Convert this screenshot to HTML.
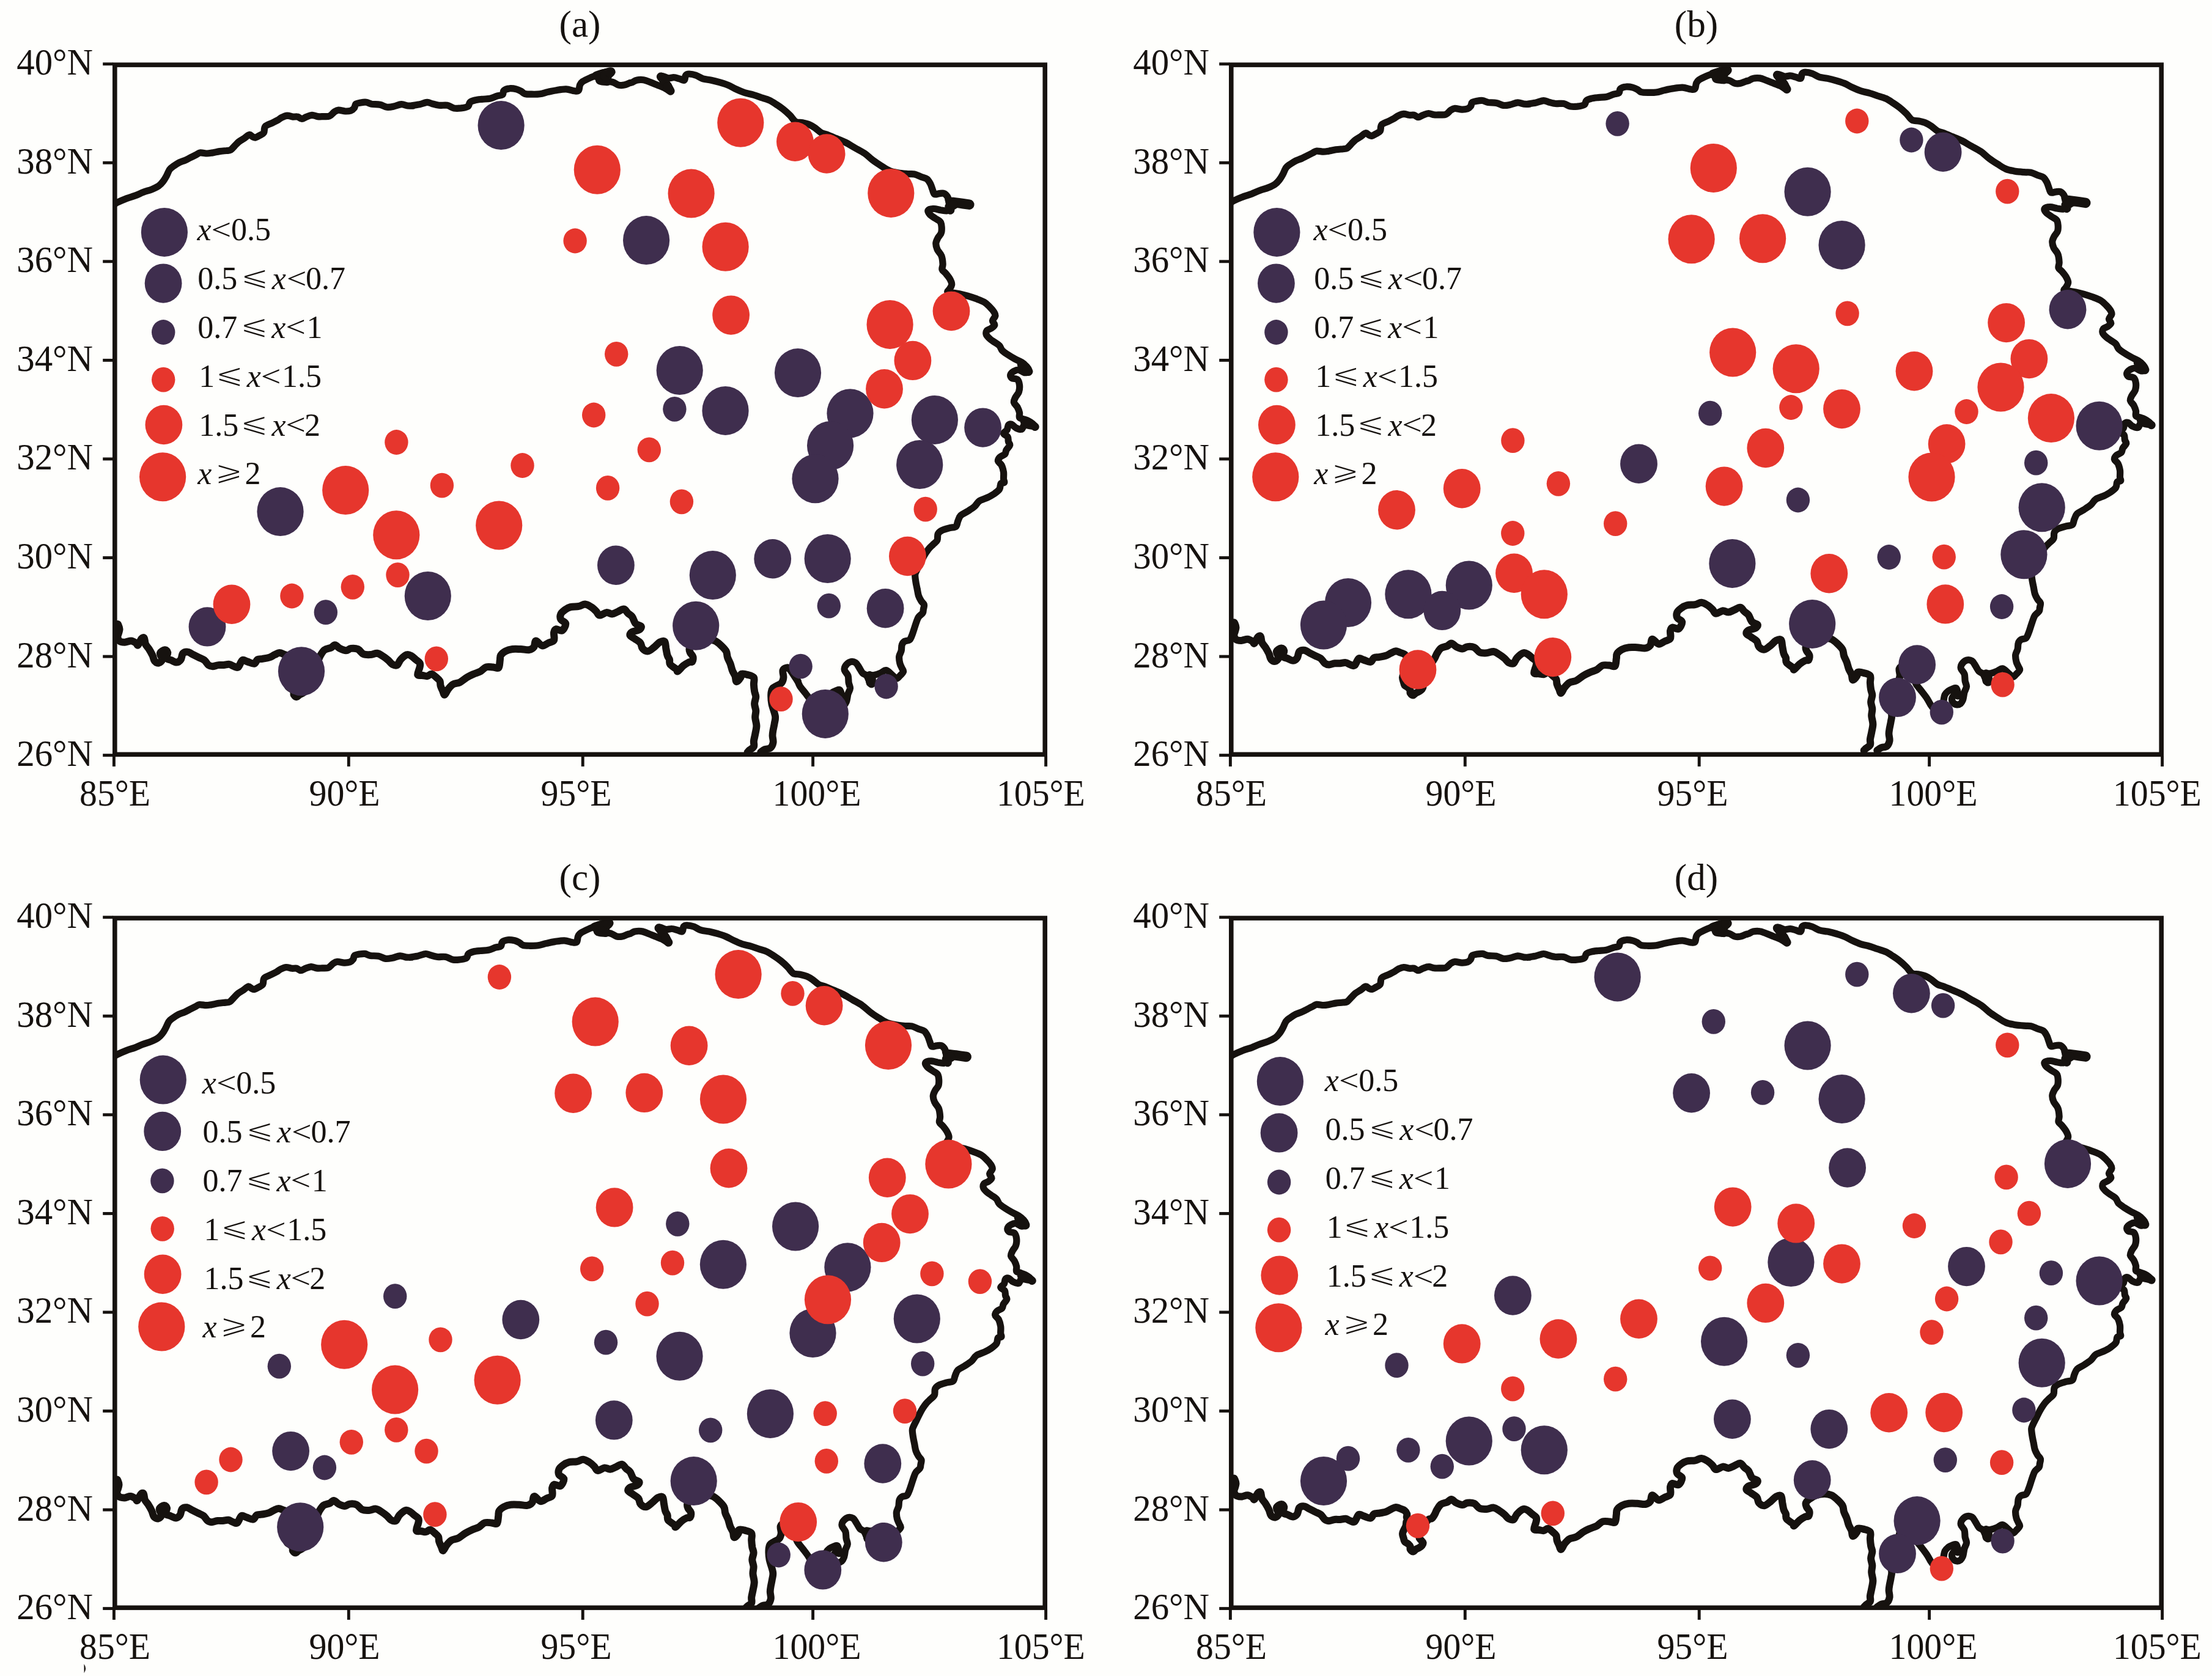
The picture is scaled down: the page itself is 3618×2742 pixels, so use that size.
<!DOCTYPE html>
<html lang="zh"><head><meta charset="utf-8"><title>Figure</title>
<style>
html,body{margin:0;padding:0;background:#fefefc}
body{width:3618px;height:2742px;overflow:hidden}
svg{display:block}
text{font-family:"Liberation Serif","Noto Serif CJK SC",serif;fill:#16120f}
.ax{font-size:61.2px}
.lg{font-size:52px}
.it{font-style:italic}
.lt{font-size:48.72px}
.sy{font-family:"DejaVu Sans",sans-serif;font-size:45px;stroke:#fefefc;stroke-width:1.3px}
.bd{fill:none;stroke:#16120f;stroke-width:11.2;stroke-linejoin:round;stroke-linecap:round}
.fr{fill:none;stroke:#16120f;stroke-width:7.6}
.tk{stroke:#16120f;stroke-width:4.9}
.D{fill:#3f2e4e}
.R{fill:#e6362d}
</style></head><body>
<svg width="3618" height="2742" viewBox="0 0 3618 2742">
<rect width="3618" height="2742" fill="#fefefc"/>
<g transform="translate(0,0)">
<clipPath id="cpa"><rect x="188" y="106" width="1521" height="1128"/></clipPath>
<g clip-path="url(#cpa)">
<path class="bd" d="M186.8 334.7C187.6 334.1 188.3 333 191.8 331.3C195.3 329.6 202.7 326.4 207.6 324.5C212.5 322.6 216.7 321.7 221.2 320C225.7 318.3 230.2 316 234.8 314.3C239.3 312.6 244.2 311.5 248.3 309.8C252.5 308.1 256.6 306.2 259.6 304.1C262.6 302.1 264.3 300 266.4 297.3C268.5 294.7 270.2 291.7 272.1 288.3C273.9 284.9 275.6 279.8 277.7 277C279.8 274.2 281.9 273.2 284.5 271.3C287.1 269.5 290.5 267.2 293.5 265.7C296.6 264.2 299.6 263.6 302.6 262.3C305.6 261 308.6 259.3 311.6 257.8C314.7 256.3 318 254.6 320.7 253.2C323.3 251.9 324.5 250.2 327.5 249.9C330.5 249.5 335.4 251 338.8 251C342.2 251 344.4 250.4 347.8 249.9C351.2 249.3 355.4 248.2 359.1 247.6C362.9 247 367.4 246.8 370.4 246.5C373.5 246.1 375 246.7 377.2 245.3C379.5 244 381.7 240.8 384 238.5C386.3 236.3 388.2 233.8 390.8 231.8C393.4 229.7 397 228 399.8 226.1C402.7 224.2 405.5 220.8 407.7 220.5C410 220.1 411.7 223.1 413.4 223.8C415.1 224.6 416 225.4 417.9 225C419.8 224.6 422.4 222.9 424.7 221.6C427 220.3 430 219.5 431.5 217.1C433 214.6 431.5 209.5 433.8 206.9C436 204.2 441.7 202.9 445.1 201.2C448.5 199.5 451.5 198.2 454.1 196.7C456.7 195.2 458.3 193.4 460.9 192.2C463.5 190.9 466.9 189.4 469.9 189.2C473 189.1 476.2 190.8 479 191.1C481.8 191.4 484.4 190.5 486.9 191.1C489.3 191.6 491.2 194.5 493.7 194.5C496.1 194.5 498.8 192.1 501.6 191.1C504.4 190 507.6 188.4 510.6 188.3C513.7 188.3 516.7 190.2 519.7 190.6C522.7 191 525.5 190.7 528.7 190.6C531.9 190.5 535.9 191.2 538.9 189.9C541.9 188.7 544.4 184.8 546.8 183.1C549.3 181.5 550.6 180.4 553.6 180.2C556.6 180 561.5 181.9 564.9 182C568.3 182.1 571.5 181.8 574 180.9C576.4 179.9 578.3 178.1 579.6 176.4C580.9 174.6 580.2 171.6 581.9 170.3C583.6 168.9 587 168.5 589.8 168C592.6 167.5 595.8 166.9 598.8 167.3C601.9 167.7 604.1 169.6 607.9 170.3C611.7 170.9 617.3 170.3 621.5 171.2C625.6 172 629 174.7 632.8 175.2C636.5 175.7 640.1 174.9 644.1 174.1C648 173.3 652.7 170.9 656.5 170.7C660.3 170.5 663.5 172.6 666.7 173C669.9 173.3 674.7 173 675.7 173C676.7 173 670.9 173.4 672.6 173C674.4 172.7 681.8 171.7 686.2 170.8C690.5 169.8 695.2 167.6 698.6 167.4C702 167.2 703.3 168.8 706.5 169.6C709.7 170.5 713.7 171.9 717.8 172.3C722 172.8 727.3 171.6 731.4 172.3C735.6 173.1 738.9 176.1 742.7 176.9C746.5 177.6 750.3 177.3 754 176.9C757.8 176.4 762.9 175.7 765.3 174.1C767.8 172.6 766.8 169.1 768.7 167.4C770.6 165.7 773.4 164.8 776.6 164C779.8 163.1 783.8 162.8 787.9 162.4C792.1 161.9 797.4 162.1 801.5 161.3C805.7 160.4 809.4 158.2 812.8 157.2C816.2 156.1 820 156.4 821.9 154.9C823.8 153.4 822.2 149.8 824.1 148.1C826 146.4 829.8 145.1 833.2 144.8C836.6 144.4 841.3 145.1 844.5 145.9C847.7 146.6 850.1 148 852.4 149.3C854.7 150.5 855.2 152.5 858.1 153.3C860.9 154.2 865.2 154.2 869.4 154.2C873.5 154.3 878.4 154.4 882.9 153.8C887.4 153.2 892 151.4 896.5 150.4C901 149.4 905.2 148.4 910.1 147.7C915 146.9 921 145.7 925.9 145.9C930.8 146.1 936.1 148.4 939.5 148.8C942.9 149.2 944.7 149.8 946.2 148.1C947.8 146.5 947.4 141.5 948.5 139.1C949.6 136.6 950 135.5 953 133.4C956 131.4 962.8 128.4 966.6 126.7C970.4 125 972.6 124.5 975.6 123.3C978.7 122.1 980.7 120.4 984.7 119.4C988.6 118.4 998.6 116.1 999.4 117.2C1000.1 118.2 992 123.2 989.2 125.5C986.4 127.9 981.7 129.9 982.4 131.2C983.2 132.4 990.3 132.4 993.7 133C997.1 133.6 999.8 133.6 1002.8 134.6C1005.8 135.6 1008.8 138.3 1011.8 139.1C1014.8 139.9 1017.9 139.7 1020.9 139.1C1023.9 138.5 1027.7 136.5 1029.9 135.7C1032.2 135 1032.6 135.3 1034.4 134.6C1036.3 133.8 1038.2 131.8 1041.2 131.2C1044.2 130.5 1048.8 130.2 1052.5 130.7C1056.3 131.3 1060.1 133.2 1063.8 134.6C1067.6 136 1071.4 137.6 1075.1 139.1C1078.9 140.6 1082.9 141.9 1086.5 143.6C1090 145.3 1095.5 149.8 1096.6 149.3C1097.8 148.7 1094.7 142.9 1093.2 140.2C1091.7 137.6 1089.5 136.1 1087.6 133.4C1085.7 130.8 1081 125.3 1081.9 124.4C1082.9 123.5 1089.8 127.4 1093.2 127.8C1096.6 128.2 1099.3 126.5 1102.3 126.7C1105.3 126.8 1108.5 128.2 1111.3 128.9C1114.2 129.7 1117.5 132.1 1119.2 131.2C1120.9 130.2 1120.2 125 1121.5 123.3C1122.8 121.6 1124.3 121 1127.1 121C1130 121 1134.7 121.9 1138.4 123.3C1142.2 124.6 1145.6 127.6 1149.8 128.9C1153.9 130.2 1158.8 130.2 1163.3 131.2C1167.8 132.1 1172.4 133.3 1176.9 134.6C1181.4 135.9 1185.9 137.2 1190.5 139.1C1195 141 1199.5 143.8 1204 145.9C1208.5 148 1213.1 150 1217.6 151.5C1222.1 153 1226.6 153.6 1231.2 154.9C1235.7 156.2 1240.2 157.9 1244.7 159.5C1249.3 161 1254.2 162.1 1258.3 164C1262.4 165.9 1265.8 168.3 1269.6 170.8C1273.4 173.2 1277.1 175.7 1280.9 178.7C1284.7 181.7 1288.8 185.5 1292.2 188.8C1295.6 192.2 1297.9 197 1301.3 199C1304.7 201 1308.8 200 1312.6 200.8C1316.3 201.7 1320.5 202.6 1323.9 204C1327.3 205.4 1329.7 207 1332.9 209.2C1336.1 211.4 1339.7 215.2 1343.1 217.1C1346.5 219 1349.3 219 1353.3 220.5C1357.2 222 1361.9 224.1 1366.8 226.2C1371.7 228.2 1377.4 230.3 1382.7 232.9C1388 235.6 1393.2 239 1398.5 242C1403.8 245 1409.4 247.6 1414.3 251C1419.2 254.4 1423.4 259 1427.9 262.3C1432.4 265.7 1437 268.6 1441.5 271.4C1446 274.2 1450.5 277.4 1455 279.3C1459.6 281.2 1463.7 281.8 1468.6 282.7C1473.5 283.6 1479.9 284.1 1484.4 284.5C1489 284.9 1492 284.1 1495.7 285C1499.5 285.8 1503.7 288.2 1507.1 289.5C1510.4 290.8 1513.7 291 1516.1 292.9C1518.6 294.8 1520.2 298 1521.8 300.8C1523.3 303.6 1524 307 1525.1 309.8C1526.3 312.7 1526.7 316.6 1528.5 317.7C1530.4 318.9 1533.8 316.8 1536.5 316.6C1539.1 316.4 1542.1 315.7 1544.4 316.6C1546.6 317.6 1548.7 320.2 1550 322.3C1551.3 324.3 1550 327.7 1552.3 329.1C1554.5 330.4 1559.8 329.8 1563.6 330.2C1567.4 330.6 1571.1 330.8 1574.9 331.3C1578.7 331.9 1588.1 333 1586.2 333.6C1584.3 334.1 1568.9 333.6 1563.6 334.7C1558.3 335.8 1557 338.7 1554.5 340.4C1552.1 342.1 1551.5 344.3 1548.9 344.9C1546.3 345.5 1542.3 344.3 1538.7 343.8C1535.1 343.2 1530.8 341.5 1527.4 341.5C1524 341.5 1519.5 342.2 1518.4 343.8C1517.2 345.3 1518.7 348.3 1520.6 350.5C1522.5 352.8 1526.7 355.1 1529.7 357.3C1532.7 359.6 1537 360.3 1538.7 364.1C1540.4 367.9 1540.6 375.8 1539.8 379.9C1539.1 384.1 1535.7 386 1534.2 389C1532.7 392 1531 394.8 1530.8 398C1530.6 401.2 1531.6 404.8 1533.1 408.2C1534.6 411.6 1538.3 414.4 1539.8 418.4C1541.4 422.3 1541.9 428.2 1542.1 432C1542.3 435.7 1540.2 438.5 1541 441C1541.7 443.5 1544.4 444.3 1546.5 446.8C1548.5 449.3 1551.6 452.8 1553.3 455.8C1555 458.8 1556.7 462 1556.7 464.9C1556.7 467.7 1554.4 470.7 1553.3 472.8C1552.1 474.9 1549.1 476.3 1549.9 477.3C1550.6 478.3 1554.6 478.3 1557.8 478.9C1561 479.5 1565 479.8 1569.1 480.7C1573.3 481.6 1578.2 482.8 1582.7 484.1C1587.2 485.4 1591.7 486.9 1596.2 488.6C1600.8 490.3 1606 492 1609.8 494.3C1613.6 496.5 1616.2 499.6 1618.9 502.2C1621.5 504.8 1624.1 507.7 1625.6 510.1C1627.2 512.6 1628.3 514.4 1627.9 516.9C1627.5 519.3 1623.6 522.4 1623.4 524.8C1623.2 527.3 1627.2 529.5 1626.8 531.6C1626.4 533.7 1623.2 535.7 1621.1 537.2C1619 538.7 1615.7 538.9 1614.3 540.6C1613 542.3 1612.5 545.2 1613.2 547.4C1614 549.7 1616.6 552.1 1618.9 554.2C1621.1 556.3 1624.1 558 1626.8 559.9C1629.4 561.7 1632.6 563.2 1634.7 565.5C1636.8 567.8 1637 571 1639.2 573.4C1641.5 575.9 1644.9 577.9 1648.3 580.2C1651.7 582.5 1655.8 584.9 1659.6 587C1663.3 589.1 1667.9 590.8 1670.9 592.6C1673.9 594.5 1675.8 595.8 1677.7 598.3C1679.5 600.7 1682.6 605.5 1682.2 607.3C1681.8 609.2 1678 610 1675.4 609.6C1672.8 609.2 1669.2 605.5 1666.4 605.1C1663.5 604.7 1660.7 606 1658.4 607.3C1656.2 608.7 1653.3 611.1 1652.8 613C1652.2 614.9 1653.2 617.3 1655 618.7C1656.9 620 1662 619 1664.1 620.9C1666.2 622.8 1667.1 626.6 1667.5 630C1667.9 633.4 1667.5 637.9 1666.4 641.3C1665.2 644.7 1662 647.5 1660.7 650.3C1659.4 653.1 1657.9 655.6 1658.4 658.2C1659 660.9 1662.6 663.3 1664.1 666.1C1665.6 669 1666.9 672.4 1667.5 675.2C1668 678 1666.5 681.4 1667.5 683.1C1668.4 684.8 1670.7 684.4 1673.1 685.4C1675.6 686.3 1679.5 687.4 1682.2 688.8C1684.8 690.1 1687.3 691.8 1689 693.3C1690.7 694.8 1693.1 697.2 1692.4 697.8C1691.6 698.4 1687.3 697 1684.4 696.7C1681.6 696.3 1677.7 694.6 1675.4 695.5C1673.1 696.5 1673.1 701.6 1670.9 702.3C1668.6 703.1 1664.5 701.4 1661.8 700.1C1659.2 698.7 1657.1 695.2 1655 694.4C1653 693.7 1650.7 694 1649.4 695.5C1648.1 697 1648.4 701.2 1647.1 703.5C1645.8 705.7 1641.3 707.2 1641.5 709.1C1641.7 711 1646.9 712.5 1648.3 714.8C1649.6 717 1648.8 720.4 1649.4 722.7C1650 724.9 1652.2 726.1 1651.7 728.3C1651.1 730.6 1647.3 733.8 1646 736.2C1644.7 738.7 1645.4 741.1 1643.7 743C1642 744.9 1637.7 745.7 1635.8 747.6C1633.9 749.4 1632.1 752.1 1632.4 754.3C1632.8 756.6 1636.6 758.1 1638.1 761.1C1639.6 764.1 1640.9 768.7 1641.5 772.4C1642 776.2 1641.3 780.9 1641.5 783.7C1641.7 786.6 1643.4 788.1 1642.6 789.4C1641.9 790.7 1638.3 789.5 1637 791.3C1635.6 793.1 1636.6 797.5 1634.7 800.4C1632.8 803.2 1628.8 806 1625.6 808.3C1622.4 810.5 1619.4 812 1615.5 813.9C1611.5 815.8 1605.5 817.1 1601.9 819.6C1598.3 822 1597.2 825.8 1594 828.6C1590.8 831.4 1586.4 834.1 1582.7 836.5C1578.9 839 1574 840.7 1571.4 843.3C1568.7 846 1568.2 849.4 1566.8 852.4C1565.5 855.4 1565.7 859.5 1563.5 861.4C1561.2 863.3 1557.2 862.5 1553.3 863.7C1549.3 864.8 1542.9 866.5 1539.7 868.2C1536.5 869.9 1535.2 871.2 1534.1 873.8C1532.9 876.5 1534.2 881.2 1532.9 884C1531.6 886.9 1528.4 888.5 1526.1 890.8C1523.9 893.1 1521.4 895.1 1519.4 897.6C1517.3 900 1515.4 902.9 1513.7 905.5C1512 908.1 1510.9 910.2 1509.2 913.4C1507.5 916.6 1505.2 921.3 1503.5 924.7C1501.8 928.1 1500.1 931.1 1499 933.8C1497.9 936.4 1496.9 937.5 1496.7 940.6C1496.6 943.6 1497.3 948.1 1497.9 951.9C1498.4 955.6 1499.4 959.4 1500.1 963.2C1500.9 966.9 1501.3 971.1 1502.4 974.5C1503.5 977.9 1505.4 981.1 1506.9 983.5C1508.4 986 1510.9 986.9 1511.4 989.2C1512 991.4 1510.7 994.8 1510.3 997.1C1509.9 999.4 1510.5 1000.7 1509.2 1002.7C1507.9 1004.8 1504.1 1007.1 1502.4 1009.5C1500.7 1012 1500.1 1014.4 1499 1017.4C1497.9 1020.5 1496.7 1024.2 1495.6 1027.6C1494.5 1031 1493.5 1034.6 1492.2 1037.8C1490.9 1041 1489.8 1045 1487.7 1046.8C1485.6 1048.7 1481.9 1047.8 1479.8 1049.1C1477.7 1050.4 1476.2 1052.1 1475.3 1054.8C1474.3 1057.4 1474.9 1061.7 1474.1 1064.9C1473.4 1068.1 1471.1 1070.6 1470.7 1074C1470.4 1077.4 1471.1 1082.1 1471.9 1085.3C1472.6 1088.5 1474.3 1090.9 1475.3 1093.2C1476.2 1095.5 1478.1 1096.8 1477.5 1098.9C1477 1100.9 1473.8 1103.8 1471.9 1105.6C1470 1107.5 1468.5 1110.5 1466.2 1110.2C1464 1109.8 1461.1 1105.6 1458.3 1103.4C1455.5 1101.1 1452.3 1097 1449.3 1096.6C1446.2 1096.2 1443.4 1099.8 1440.2 1101.1C1437 1102.4 1433 1103.8 1430 1104.5C1427 1105.3 1423.2 1103.6 1422.1 1105.6C1421 1107.7 1424 1117 1423.2 1117C1422.5 1117 1419.7 1108.3 1417.6 1105.6C1415.5 1103 1412.9 1103.4 1410.8 1101.1C1408.7 1098.9 1407 1094.9 1405.2 1092.1C1403.3 1089.2 1402 1085.7 1399.5 1084.2C1397.1 1082.7 1393.3 1082.1 1390.5 1083C1387.6 1084 1384 1087.6 1382.5 1089.8C1381 1092.1 1380.7 1094 1381.4 1096.6C1382.2 1099.2 1385.9 1102.3 1387.1 1105.6C1388.2 1109 1387.6 1113.6 1388.2 1117C1388.8 1120.3 1390.6 1123 1390.5 1126C1390.3 1129 1387.9 1132.2 1387.1 1135C1386.3 1137.9 1386.1 1140.6 1385.6 1142.9C1385.2 1145.1 1385.1 1146.5 1384.3 1148.3C1383.5 1150.1 1382.5 1152.5 1380.9 1153.7C1379.3 1154.9 1376.8 1156 1374.8 1155.7C1372.7 1155.5 1370 1154 1368.7 1152.3C1367.3 1150.7 1366.3 1147.6 1366.6 1145.6C1367 1143.5 1369 1140.8 1370.7 1140.1C1372.4 1139.5 1375.9 1142.4 1376.8 1141.5C1377.7 1140.6 1376.7 1136.9 1376.1 1134.7C1375.6 1132.6 1374.9 1129.4 1373.4 1128.6C1371.9 1127.8 1369.5 1129.2 1367.3 1130C1365.2 1130.8 1362.6 1131.8 1360.5 1133.4C1358.5 1134.9 1356.4 1137 1355.1 1139.5C1353.9 1142 1354 1143.4 1353.1 1148.3C1352.2 1153.1 1352.4 1166.4 1349.7 1168.6C1347 1170.9 1339.9 1164.1 1336.8 1161.8C1333.7 1159.6 1333.2 1157.8 1331.4 1155.1C1329.6 1152.3 1328.2 1149 1325.9 1145.6C1323.7 1142.2 1320.8 1138.6 1317.8 1134.7C1314.9 1130.9 1310.5 1125.9 1308.3 1122.5C1306.2 1119.1 1305.5 1115.7 1304.9 1114.4"/>
<path class="bd" style="stroke-width:11.8" d="M1304.9 1114.4C1302.7 1111.1 1294.9 1098.5 1291.7 1094.8C1288.6 1091.2 1288 1092.2 1286.1 1092.6C1284.2 1093 1281.2 1094.5 1280.4 1097.1C1279.7 1099.7 1281.9 1105 1281.5 1108.4C1281.2 1111.8 1280 1115.2 1278.2 1117.4C1276.3 1119.7 1272.7 1120.5 1270.2 1122C1267.8 1123.5 1265 1124.2 1263.5 1126.5C1261.9 1128.8 1261.4 1131.4 1261.2 1135.5C1261 1139.7 1261.2 1145.3 1262.3 1151.4C1263.5 1157.4 1267.2 1166.4 1268 1171.7C1268.7 1177 1267.4 1179.3 1266.8 1183C1266.3 1186.8 1265.2 1190.9 1264.6 1194.3C1264 1197.7 1263.5 1200 1263.5 1203.4C1263.5 1206.8 1265.2 1211.3 1264.6 1214.7C1264 1218.1 1262.3 1221.9 1260.1 1223.7C1257.8 1225.6 1253.7 1224.9 1251 1226C1248.4 1227.1 1245.4 1229.8 1244.2 1230.5"/>
<path class="bd" style="stroke-width:12" d="M1222.7 1230.5C1223.3 1230 1224.4 1228.6 1226.1 1227.1C1227.8 1225.6 1231.8 1223.9 1232.9 1221.5C1234.1 1219 1232.5 1215.8 1232.9 1212.4C1233.3 1209 1234.4 1205.3 1235.2 1201.1C1235.9 1197 1237.4 1192.1 1237.4 1187.6C1237.4 1183 1235.4 1178.1 1235.2 1174C1235 1169.8 1236.5 1166.4 1236.3 1162.7C1236.1 1158.9 1234.1 1155.1 1234.1 1151.4C1234.1 1147.6 1236.3 1143.5 1236.3 1140.1C1236.3 1136.7 1234.6 1134.4 1234.1 1131C1233.5 1127.6 1233.1 1123.5 1232.9 1119.7C1232.7 1115.9 1234.6 1111 1232.9 1108.4C1231.2 1105.8 1226.1 1104.8 1222.7 1103.9C1219.4 1102.9 1214.5 1102 1212.6 1102.7C1210.7 1103.5 1212.8 1106.3 1211.4 1108.4C1210.1 1110.5 1206.2 1115.6 1204.7 1115.2C1203.2 1114.8 1203.5 1109.2 1202.4 1106.1C1201.3 1103.1 1199.2 1100.5 1197.9 1097.1C1196.6 1093.7 1195.8 1089.4 1194.5 1085.8C1193.2 1082.2 1191.1 1079 1190 1075.6C1188.8 1072.2 1189.6 1068.8 1187.7 1065.4C1185.8 1062 1181.7 1058.1 1178.7 1055.3C1175.6 1052.4 1173 1050 1169.6 1048.5C1166.2 1047 1162.4 1046.2 1158.3 1046.2C1154.2 1046.2 1148.7 1047.2 1144.7 1048.5C1140.8 1049.8 1137.4 1052.1 1134.6 1054.1C1131.7 1056.2 1128.7 1058.7 1127.8 1060.9C1126.8 1063.2 1128 1065.4 1128.9 1067.7C1129.8 1070 1132.9 1072 1133.4 1074.5C1134 1076.9 1133.4 1080.9 1132.3 1082.4C1131.2 1083.9 1129.1 1082.4 1126.6 1083.5C1124.2 1084.7 1120.6 1086.7 1117.6 1089.2C1114.6 1091.6 1110.4 1097.3 1108.5 1098.2C1106.7 1099.2 1108.4 1096.7 1106.3 1094.8C1104.2 1093 1098 1089.6 1096.1 1086.9C1094.2 1084.3 1095.7 1081.5 1095 1079C1094.2 1076.6 1092.5 1075.2 1091.6 1072.2C1090.6 1069.2 1090.1 1064.7 1089.3 1060.9C1088.6 1057.1 1088.8 1051.3 1087.1 1049.6C1085.4 1047.9 1082 1049.2 1079.1 1050.7C1076.3 1052.2 1073.3 1056.2 1070.1 1058.7C1066.9 1061.1 1063.1 1065.1 1059.9 1065.4C1056.7 1065.8 1053 1063.2 1050.9 1060.9C1048.8 1058.7 1049.6 1054.5 1047.5 1051.9C1045.4 1049.2 1041.3 1047.2 1038.4 1045.1C1035.6 1043 1031.3 1041.3 1030.5 1039.4C1029.8 1037.5 1031.5 1035.3 1033.9 1033.8C1036.4 1032.3 1042.8 1031.9 1045.2 1030.4C1047.7 1028.9 1049.6 1026.4 1048.6 1024.7C1047.7 1023 1042 1022.8 1039.6 1020.2C1037.1 1017.6 1036 1011.7 1033.9 1008.9C1031.8 1006.1 1029.4 1005.3 1027.1 1003.2C1024.9 1001.2 1023.2 996.8 1020.4 996.5C1017.5 996.1 1013.3 999.7 1010 1001C1006.8 1002.3 1004 1004.2 1001 1004.4C998 1004.6 995.3 1001.7 991.9 1002.1C988.5 1002.5 983.5 1007 980.6 1006.6C977.8 1006.3 977.2 1002.1 975 999.9C972.7 997.6 970.1 995 967.1 993.1C964 991.2 960.3 988.7 956.9 988.5C953.5 988.4 950.7 991.2 946.7 991.9C942.7 992.7 936.9 992.1 933.1 993.1C929.4 994 926.7 995.7 924.1 997.6C921.5 999.5 918.4 1001.7 917.3 1004.4C916.2 1007 916 1010.8 917.3 1013.4C918.6 1016.1 924.8 1017.2 925.2 1020.2C925.6 1023.2 922.2 1030 919.6 1031.5C916.9 1033 911.7 1028.7 909.4 1029.3C907.1 1029.8 906.6 1031.9 906 1034.9C905.4 1037.9 907.5 1044.5 906 1047.3C904.5 1050.2 900.2 1050.4 897 1051.9C893.7 1053.4 890.2 1057 886.8 1056.4C883.4 1055.8 878.9 1048.1 876.6 1048.5C874.3 1048.9 875.1 1056.2 873.2 1058.7C871.3 1061.1 868.9 1062.6 865.3 1063.2C861.7 1063.7 856.2 1062.2 851.7 1062C847.2 1061.9 842.3 1061.5 838.2 1062C834 1062.6 830.1 1063.7 826.8 1065.4C823.6 1067.1 820.4 1069.8 818.9 1072.2C817.4 1074.7 818.4 1076.7 817.8 1080.1C817.2 1083.5 817.4 1090.7 815.5 1092.6C813.7 1094.5 809.9 1091.6 806.5 1091.4C803.1 1091.3 798.6 1090.3 795.2 1091.4C791.8 1092.6 789.5 1096.3 786.1 1098.2C782.7 1100.1 778.6 1101.1 774.8 1102.7C771.1 1104.4 767.3 1106.1 763.5 1108.4C759.8 1110.7 756 1114.4 752.2 1116.3C748.5 1118.2 744.1 1117.8 740.9 1119.7C737.7 1121.6 735.3 1124.8 733 1127.6C730.7 1130.5 728.9 1136.3 727.3 1136.7C725.8 1137 725.1 1132.3 724 1129.9C722.8 1127.4 721.3 1124.6 720.6 1122C719.8 1119.3 720.6 1116.3 719.4 1114.1C718.3 1111.8 716 1110.3 713.8 1108.4C711.5 1106.5 708.3 1103.1 705.9 1102.7C703.4 1102.4 701.5 1105.8 699.1 1106.1C696.6 1106.5 693.8 1105.4 691.2 1105C688.5 1104.6 684 1106.1 683.2 1103.9C682.5 1101.6 686.1 1094.6 686.6 1091.4C687.2 1088.2 687.8 1086.7 686.6 1084.7C685.5 1082.6 682.1 1080.9 679.9 1079C677.6 1077.1 675.5 1074.7 673.1 1073.4C670.7 1072 668.5 1070.1 665.6 1071.1C662.6 1072 658 1076.2 655.4 1079C652.7 1081.8 652 1086.7 649.7 1088.1C647.5 1089.4 644.3 1088.2 641.8 1086.9C639.4 1085.6 637.7 1082.4 635 1080.1C632.4 1077.9 629 1075.2 626 1073.4C623 1071.5 620.3 1069.2 616.9 1068.8C613.5 1068.5 609.4 1070.9 605.6 1071.1C601.9 1071.3 597.7 1071.5 594.3 1070C590.9 1068.5 588.7 1063.6 585.3 1062C581.9 1060.5 577.2 1060.5 574 1060.9C570.8 1061.3 569.1 1064.3 566 1064.3C563 1064.3 558.9 1062.4 555.9 1060.9C552.9 1059.4 550.4 1055.4 548 1055.3C545.5 1055.1 544 1058.5 541.2 1059.8C538.3 1061.1 533.8 1061.1 531 1063.2C528.2 1065.2 525.9 1069.4 524.2 1072.2C522.5 1075 522 1077.5 520.6 1079.8C519.3 1082.2 517.7 1084.8 516.1 1086.2C514.4 1087.5 512.4 1086.5 510.6 1088C508.8 1089.5 507.2 1091.9 505.2 1095.2C503.2 1098.5 500.5 1104.2 498.8 1107.8C497.2 1111.4 495.4 1114.6 495.2 1116.8C495.1 1119.1 496.9 1119.8 497.9 1121.3C499 1122.8 501.3 1124.4 501.6 1125.9C501.9 1127.4 500.8 1129 499.8 1130.4C498.7 1131.7 496.9 1132.9 495.2 1134C493.6 1135 491.4 1135.6 489.8 1136.7C488.1 1137.7 486.7 1140.3 485.2 1140.3C483.7 1140.3 481.5 1138 480.7 1136.7C479.9 1135.3 481.3 1133.7 480.7 1132.2C480.1 1130.7 478.6 1129 477.1 1127.7C475.6 1126.3 472.8 1125.6 471.6 1124.1C470.4 1122.5 470.4 1120.7 469.8 1118.6C469.2 1116.5 468 1113.5 468 1111.4C468 1109.3 468.9 1108.1 469.8 1106C470.7 1103.9 472.7 1101.2 473.4 1098.8C474.2 1096.4 473.9 1093.2 474.4 1091.6C474.8 1089.9 476.1 1090.1 476.2 1088.9C476.2 1087.7 475 1086 474.8 1084.3C474.7 1082.7 475.8 1080.7 475.3 1078.9C474.7 1077.1 473.3 1074.9 471.6 1073.5C470 1072.2 467.7 1071.7 465.3 1070.8C462.9 1069.9 459.7 1068.1 457.1 1068.1C454.5 1068.2 452.3 1069.8 449.6 1071.1C446.8 1072.3 443.9 1074.5 440.5 1075.6C437.1 1076.7 432.4 1077.3 429.2 1077.9C426 1078.4 423.6 1077.7 421.3 1079C419.1 1080.3 418.5 1085.2 415.7 1085.8C412.8 1086.4 407.6 1083.3 404.4 1082.4C401.2 1081.5 398.9 1078.6 396.4 1080.1C394 1081.6 391.9 1089.7 389.7 1091.4C387.4 1093.1 385.3 1091.1 382.9 1090.3C380.4 1089.6 377.8 1087.3 375 1086.9C372.1 1086.5 368.9 1087.9 365.9 1088.1C362.9 1088.2 359.9 1087.7 356.9 1088.1C353.9 1088.4 350.5 1090.3 347.8 1090.3C345.2 1090.3 343.3 1089.7 341 1088.1C338.8 1086.4 336.9 1082.2 334.3 1080.1C331.6 1078.1 328.2 1077.1 325.2 1075.6C322.2 1074.1 319.2 1072.6 316.2 1071.1C313.1 1069.6 309.9 1066.9 307.1 1066.6C304.3 1066.2 301.1 1066.8 299.2 1068.8C297.3 1070.9 297.5 1076.6 295.8 1079C294.1 1081.5 291.7 1083.3 289 1083.5C286.4 1083.7 282.8 1081.3 280 1080.1C277.2 1079 273 1078.8 272.1 1076.7C271.1 1074.7 274.7 1070 274.3 1067.7C273.9 1065.4 271.9 1063 269.8 1063.2C267.7 1063.4 262.6 1066.2 261.9 1068.8C261.1 1071.5 265.7 1076.4 265.3 1079C264.9 1081.6 261.7 1084.3 259.6 1084.7C257.6 1085 254.5 1083.3 252.8 1081.3C251.1 1079.2 251 1075.4 249.5 1072.2C247.9 1069 245.7 1065.1 243.8 1062C241.9 1059 239.5 1057.1 238.1 1054.1C236.8 1051.1 237 1045.5 235.9 1044C234.8 1042.4 233.1 1043.2 231.4 1045.1C229.7 1047 227.2 1054.1 225.7 1055.3C224.2 1056.4 224.2 1053 222.3 1051.9C220.4 1050.7 217.4 1048.7 214.4 1048.5C211.4 1048.3 207.4 1050.7 204.2 1050.7C201 1050.7 197.2 1050.5 195.2 1048.5C193.1 1046.4 192 1041.5 191.8 1038.3C191.6 1035.1 194 1031.9 194 1029.3C194 1026.6 193 1023.8 191.8 1022.5C190.6 1021.2 187.6 1021.5 186.8 1021.3"/>
<path class="bd" style="stroke-width:14.5" d="M975.6 123.9C977.5 123.3 983 121.4 987 120.3C990.9 119.3 999 116.7 999.4 117.6C999.8 118.5 992.2 123.3 989.2 125.5C986.2 127.8 980.5 129.9 981.3 131.2C982.1 132.4 991.7 132.7 993.7 133"/>
<path class="bd" style="stroke-width:14" d="M1080.8 125.5C1082.1 127.2 1086.1 131.8 1088.7 135.7C1091.4 139.6 1095.3 146.6 1096.6 148.8"/>
<path class="bd" style="stroke-width:16.5" d="M1554.5 330.6C1556.8 330.9 1563 331.5 1568.1 332.2C1573.2 332.9 1582.4 334.3 1585.3 334.7"/>
<path class="bd" style="stroke-width:14" d="M1552.3 338.1C1552.7 339 1554.2 342.8 1554.5 343.8"/>
<path class="bd" style="stroke-width:14.5" d="M1670.9 596C1672.2 597 1676.9 599.7 1678.8 601.7C1680.7 603.7 1681.6 606.8 1682.2 607.8"/>
<path class="bd" style="stroke-width:13.5" d="M1675.4 689.9C1677.1 690.5 1682.6 691.9 1685.6 693.3C1688.5 694.7 1691.8 697.4 1693 698.3"/>
<path class="bd" style="stroke-width:14" d="M192.2 1022C192.6 1023.2 194.5 1026.5 194.5 1029.3C194.5 1032 192.6 1036.8 192.2 1038.3"/>
<path class="bd" style="stroke-width:15" d="M1422.1 1105.6C1422.4 1107.5 1423.6 1114.7 1423.9 1116.5"/>
<path class="bd" style="stroke-width:15" d="M1422.9 1109.5C1423.3 1110.9 1425.1 1116.5 1425.6 1117.9"/>
<circle cx="991.5" cy="123.9" r="9.5" fill="#16120f"/>
<circle cx="997.1" cy="118.7" r="8" fill="#16120f"/>
<circle cx="1086.5" cy="131.2" r="8" fill="#16120f"/>
<circle cx="1092.1" cy="141.4" r="7.5" fill="#16120f"/>
<circle cx="1559.1" cy="335.2" r="8" fill="#16120f"/>
<circle cx="1679.9" cy="605.1" r="8" fill="#16120f"/>
<circle cx="1424.4" cy="1111.3" r="8.5" fill="#16120f"/>
<circle cx="1425.1" cy="1115.2" r="8" fill="#16120f"/>
</g>
<ellipse class="D" cx="1057.1" cy="393.1" rx="38.1" ry="40"/>
<ellipse class="D" cx="1111.7" cy="606" rx="38.1" ry="40"/>
<ellipse class="D" cx="1305" cy="610.1" rx="38.1" ry="40"/>
<ellipse class="D" cx="1103.4" cy="669.3" rx="19.2" ry="20.4"/>
<ellipse class="D" cx="1186.5" cy="671.9" rx="38.1" ry="40"/>
<ellipse class="D" cx="1390.5" cy="676.3" rx="38.1" ry="40"/>
<ellipse class="D" cx="1528.9" cy="686.9" rx="38.1" ry="40"/>
<ellipse class="D" cx="1607.6" cy="699.6" rx="30.4" ry="32.2"/>
<ellipse class="D" cx="819.6" cy="205.1" rx="38.1" ry="40"/>
<ellipse class="D" cx="458.5" cy="837.1" rx="38.1" ry="40"/>
<ellipse class="D" cx="699.8" cy="975" rx="38.1" ry="40"/>
<ellipse class="D" cx="532.8" cy="1001.7" rx="19.2" ry="20.4"/>
<ellipse class="D" cx="339" cy="1025.4" rx="30.4" ry="32.2"/>
<ellipse class="D" cx="493" cy="1098.2" rx="38.1" ry="40"/>
<ellipse class="D" cx="1358.1" cy="729" rx="38.1" ry="40"/>
<ellipse class="D" cx="1333.5" cy="783.3" rx="38.1" ry="40"/>
<ellipse class="D" cx="1504.2" cy="760" rx="38.1" ry="40"/>
<ellipse class="D" cx="1007.4" cy="924.7" rx="30.4" ry="32.2"/>
<ellipse class="D" cx="1165.8" cy="941" rx="38.1" ry="40"/>
<ellipse class="D" cx="1263.7" cy="914.3" rx="30.4" ry="32.2"/>
<ellipse class="D" cx="1353.7" cy="914" rx="38.1" ry="40"/>
<ellipse class="D" cx="1355.8" cy="991.2" rx="19.2" ry="20.4"/>
<ellipse class="D" cx="1448.1" cy="995.3" rx="30.4" ry="32.2"/>
<ellipse class="D" cx="1138.2" cy="1023.7" rx="38.1" ry="40"/>
<ellipse class="D" cx="1309.6" cy="1090.2" rx="19.2" ry="20.4"/>
<ellipse class="D" cx="1449.6" cy="1123" rx="19.2" ry="20.4"/>
<ellipse class="D" cx="1349.8" cy="1167.9" rx="38.1" ry="40"/>
<ellipse class="R" cx="1211.3" cy="200.8" rx="38.1" ry="40"/>
<ellipse class="R" cx="1300.4" cy="231.8" rx="30.4" ry="32.2"/>
<ellipse class="R" cx="1352.1" cy="251.5" rx="30.4" ry="32.2"/>
<ellipse class="R" cx="976.8" cy="277.7" rx="38.1" ry="40"/>
<ellipse class="R" cx="1130.6" cy="316.6" rx="38.1" ry="40"/>
<ellipse class="R" cx="1457.3" cy="315.9" rx="38.1" ry="40"/>
<ellipse class="R" cx="940.6" cy="394" rx="19.2" ry="20.4"/>
<ellipse class="R" cx="1186.6" cy="403.7" rx="38.1" ry="40"/>
<ellipse class="R" cx="1195.6" cy="515.6" rx="30.4" ry="32.2"/>
<ellipse class="R" cx="1455.6" cy="530.9" rx="38.1" ry="40"/>
<ellipse class="R" cx="1556" cy="509" rx="30.4" ry="32.2"/>
<ellipse class="R" cx="1008.2" cy="579.3" rx="19.2" ry="20.4"/>
<ellipse class="R" cx="1492.9" cy="589.9" rx="30.4" ry="32.2"/>
<ellipse class="R" cx="1446.5" cy="636.3" rx="30.4" ry="32.2"/>
<ellipse class="R" cx="971.2" cy="679" rx="19.2" ry="20.4"/>
<ellipse class="R" cx="648.4" cy="723.5" rx="19.2" ry="20.4"/>
<ellipse class="R" cx="854.5" cy="761.5" rx="19.2" ry="20.4"/>
<ellipse class="R" cx="565.2" cy="802" rx="38.1" ry="40"/>
<ellipse class="R" cx="722.9" cy="794.1" rx="19.2" ry="20.4"/>
<ellipse class="R" cx="648.3" cy="875.3" rx="38.1" ry="40"/>
<ellipse class="R" cx="816.2" cy="859.5" rx="38.1" ry="40"/>
<ellipse class="R" cx="650.5" cy="940.6" rx="19.2" ry="20.4"/>
<ellipse class="R" cx="576.8" cy="960.3" rx="19.2" ry="20.4"/>
<ellipse class="R" cx="477.4" cy="975" rx="19.2" ry="20.4"/>
<ellipse class="R" cx="379" cy="988.8" rx="30.4" ry="32.2"/>
<ellipse class="R" cx="713.8" cy="1077.9" rx="19.2" ry="20.4"/>
<ellipse class="R" cx="1061.8" cy="735.8" rx="19.2" ry="20.4"/>
<ellipse class="R" cx="994.1" cy="798.4" rx="19.2" ry="20.4"/>
<ellipse class="R" cx="1114.9" cy="820.8" rx="19.2" ry="20.4"/>
<ellipse class="R" cx="1513.7" cy="833.1" rx="19.2" ry="20.4"/>
<ellipse class="R" cx="1484.4" cy="910" rx="30.4" ry="32.2"/>
<ellipse class="R" cx="1277.5" cy="1143.7" rx="19.2" ry="20.4"/>
<rect class="fr" x="187.8" y="106.1" width="1521.4" height="1128.2"/>
<line class="tk" x1="168.2" x2="185" y1="104.7" y2="104.7"/>
<text class="ax" transform="translate(152.1,122.1) scale(0.962,1)" text-anchor="end">40°N</text>
<line class="tk" x1="168.2" x2="185" y1="266.3" y2="266.3"/>
<text class="ax" transform="translate(152.1,283.7) scale(0.962,1)" text-anchor="end">38°N</text>
<line class="tk" x1="168.2" x2="185" y1="427.8" y2="427.8"/>
<text class="ax" transform="translate(152.1,445.2) scale(0.962,1)" text-anchor="end">36°N</text>
<line class="tk" x1="168.2" x2="185" y1="589.4" y2="589.4"/>
<text class="ax" transform="translate(152.1,606.8) scale(0.962,1)" text-anchor="end">34°N</text>
<line class="tk" x1="168.2" x2="185" y1="750.9" y2="750.9"/>
<text class="ax" transform="translate(152.1,768.3) scale(0.962,1)" text-anchor="end">32°N</text>
<line class="tk" x1="168.2" x2="185" y1="912.5" y2="912.5"/>
<text class="ax" transform="translate(152.1,929.9) scale(0.962,1)" text-anchor="end">30°N</text>
<line class="tk" x1="168.2" x2="185" y1="1074.1" y2="1074.1"/>
<text class="ax" transform="translate(152.1,1091.5) scale(0.962,1)" text-anchor="end">28°N</text>
<line class="tk" x1="168.2" x2="185" y1="1235.6" y2="1235.6"/>
<text class="ax" transform="translate(152.1,1253) scale(0.962,1)" text-anchor="end">26°N</text>
<line class="tk" x1="186.4" x2="186.4" y1="1237" y2="1254"/>
<text class="ax" transform="translate(130.1,1317.6) scale(0.943,1)">85°E</text>
<line class="tk" x1="570.3" x2="570.3" y1="1237" y2="1254"/>
<text class="ax" transform="translate(505.6,1317.6) scale(0.943,1)">90°E</text>
<line class="tk" x1="953.2" x2="953.2" y1="1237" y2="1254"/>
<text class="ax" transform="translate(884.5,1317.6) scale(0.943,1)">95°E</text>
<line class="tk" x1="1329.6" x2="1329.6" y1="1237" y2="1254"/>
<text class="ax" transform="translate(1263.6,1317.6) scale(0.943,1)">100°E</text>
<line class="tk" x1="1710.6" x2="1710.6" y1="1237" y2="1254"/>
<text class="ax" transform="translate(1630,1317.6) scale(0.943,1)">105°E</text>
<text class="ax" x="948.5" y="60.1" text-anchor="middle">(a)</text>
<ellipse class="D" cx="268.9" cy="379.9" rx="38.1" ry="40"/>
<text class="lg"><tspan class="it" x="322.4" y="393">x</tspan><tspan class="lt" x="345.6" y="391.5" textLength="32.712" lengthAdjust="spacingAndGlyphs">&lt;</tspan><tspan x="377.9" y="393">0.5</tspan></text>
<ellipse class="D" cx="267.1" cy="463.6" rx="30.4" ry="32.2"/>
<text class="lg"><tspan x="323.2" y="473">0.5</tspan><tspan class="sy" x="393.2" y="466.6" textLength="46.7604" lengthAdjust="spacingAndGlyphs">⩽</tspan><tspan class="it" x="444.8" y="473">x</tspan><tspan class="lt" x="468.8" y="471.5" textLength="32.712" lengthAdjust="spacingAndGlyphs">&lt;</tspan><tspan x="500.1" y="473">0.7</tspan></text>
<ellipse class="D" cx="267.2" cy="543.5" rx="19.2" ry="20.4"/>
<text class="lg"><tspan x="323.3" y="552.9">0.7</tspan><tspan class="sy" x="392.5" y="546.5" textLength="46.7604" lengthAdjust="spacingAndGlyphs">⩽</tspan><tspan class="it" x="444.3" y="552.9">x</tspan><tspan class="lt" x="467.3" y="551.4" textLength="32.712" lengthAdjust="spacingAndGlyphs">&lt;</tspan><tspan x="501.5" y="552.9">1</tspan></text>
<ellipse class="R" cx="267.2" cy="621.2" rx="19.2" ry="20.4"/>
<text class="lg"><tspan x="325.3" y="633">1</tspan><tspan class="sy" x="351.9" y="626.6" textLength="46.7604" lengthAdjust="spacingAndGlyphs">⩽</tspan><tspan class="it" x="403.7" y="633">x</tspan><tspan class="lt" x="426.7" y="631.5" textLength="32.712" lengthAdjust="spacingAndGlyphs">&lt;</tspan><tspan x="460.9" y="633">1.5</tspan></text>
<ellipse class="R" cx="267.9" cy="695" rx="30.4" ry="32.2"/>
<text class="lg"><tspan x="325.3" y="712.9">1.5</tspan><tspan class="sy" x="392.6" y="706.5" textLength="46.7604" lengthAdjust="spacingAndGlyphs">⩽</tspan><tspan class="it" x="444.4" y="712.9">x</tspan><tspan class="lt" x="467.3" y="711.4" textLength="32.712" lengthAdjust="spacingAndGlyphs">&lt;</tspan><tspan x="497.9" y="712.9">2</tspan></text>
<ellipse class="R" cx="266.1" cy="780.3" rx="38.1" ry="40"/>
<text class="lg"><tspan class="it" x="323.2" y="792">x</tspan><tspan class="sy" x="351" y="785.6" textLength="46.7604" lengthAdjust="spacingAndGlyphs">⩾</tspan><tspan x="400.6" y="792">2</tspan></text>
</g>
<g transform="translate(1826,0)">
<clipPath id="cpb"><rect x="188" y="106" width="1521" height="1128"/></clipPath>
<g clip-path="url(#cpb)">
<path class="bd" d="M186.8 331.9C187.6 331.3 188.3 330.2 191.8 328.5C195.3 326.8 202.7 323.6 207.6 321.7C212.5 319.8 216.7 318.9 221.2 317.2C225.7 315.5 230.2 313.2 234.8 311.5C239.3 309.8 244.2 308.7 248.3 307C252.5 305.3 256.6 303.4 259.6 301.3C262.6 299.3 264.3 297.2 266.4 294.5C268.5 291.9 270.2 288.9 272.1 285.5C273.9 282.1 275.6 277 277.7 274.2C279.8 271.4 281.9 270.4 284.5 268.5C287.1 266.7 290.5 264.4 293.5 262.9C296.6 261.4 299.6 260.8 302.6 259.5C305.6 258.2 308.6 256.5 311.6 255C314.7 253.5 318 251.8 320.7 250.4C323.3 249.1 324.5 247.4 327.5 247.1C330.5 246.7 335.4 248.2 338.8 248.2C342.2 248.2 344.4 247.6 347.8 247.1C351.2 246.5 355.4 245.4 359.1 244.8C362.9 244.2 367.4 244 370.4 243.7C373.5 243.3 375 243.9 377.2 242.5C379.5 241.2 381.7 238 384 235.7C386.3 233.5 388.2 231 390.8 229C393.4 226.9 397 225.2 399.8 223.3C402.7 221.4 405.5 218 407.7 217.7C410 217.3 411.7 220.3 413.4 221C415.1 221.8 416 222.6 417.9 222.2C419.8 221.8 422.4 220.1 424.7 218.8C427 217.5 430 216.7 431.5 214.3C433 211.8 431.5 206.7 433.8 204.1C436 201.4 441.7 200.1 445.1 198.4C448.5 196.7 451.5 195.4 454.1 193.9C456.7 192.4 458.3 190.6 460.9 189.4C463.5 188.1 466.9 186.6 469.9 186.4C473 186.3 476.2 188 479 188.3C481.8 188.6 484.4 187.7 486.9 188.3C489.3 188.8 491.2 191.7 493.7 191.7C496.1 191.7 498.8 189.3 501.6 188.3C504.4 187.2 507.6 185.6 510.6 185.5C513.7 185.5 516.7 187.4 519.7 187.8C522.7 188.2 525.5 187.9 528.7 187.8C531.9 187.7 535.9 188.4 538.9 187.1C541.9 185.9 544.4 182 546.8 180.3C549.3 178.7 550.6 177.6 553.6 177.4C556.6 177.2 561.5 179.1 564.9 179.2C568.3 179.3 571.5 179 574 178.1C576.4 177.1 578.3 175.3 579.6 173.6C580.9 171.8 580.2 168.8 581.9 167.5C583.6 166.1 587 165.7 589.8 165.2C592.6 164.7 595.8 164.1 598.8 164.5C601.9 164.9 604.1 166.8 607.9 167.5C611.7 168.1 617.3 167.5 621.5 168.4C625.6 169.2 629 171.9 632.8 172.4C636.5 172.9 640.1 172.1 644.1 171.3C648 170.5 652.7 168.1 656.5 167.9C660.3 167.7 663.5 169.8 666.7 170.2C669.9 170.5 674.7 170.2 675.7 170.2C676.7 170.2 670.9 170.6 672.6 170.2C674.4 169.9 681.8 168.9 686.2 168C690.5 167 695.2 164.8 698.6 164.6C702 164.4 703.3 166 706.5 166.8C709.7 167.7 713.7 169.1 717.8 169.5C722 170 727.3 168.8 731.4 169.5C735.6 170.3 738.9 173.3 742.7 174.1C746.5 174.8 750.3 174.5 754 174.1C757.8 173.6 762.9 172.9 765.3 171.3C767.8 169.8 766.8 166.3 768.7 164.6C770.6 162.9 773.4 162 776.6 161.2C779.8 160.3 783.8 160 787.9 159.6C792.1 159.1 797.4 159.3 801.5 158.5C805.7 157.6 809.4 155.4 812.8 154.4C816.2 153.3 820 153.6 821.9 152.1C823.8 150.6 822.2 147 824.1 145.3C826 143.6 829.8 142.3 833.2 142C836.6 141.6 841.3 142.3 844.5 143.1C847.7 143.8 850.1 145.2 852.4 146.5C854.7 147.7 855.2 149.7 858.1 150.5C860.9 151.4 865.2 151.4 869.4 151.4C873.5 151.5 878.4 151.6 882.9 151C887.4 150.4 892 148.6 896.5 147.6C901 146.6 905.2 145.6 910.1 144.9C915 144.1 921 142.9 925.9 143.1C930.8 143.3 936.1 145.6 939.5 146C942.9 146.4 944.7 147 946.2 145.3C947.8 143.7 947.4 138.7 948.5 136.3C949.6 133.8 950 132.7 953 130.6C956 128.6 962.8 125.6 966.6 123.9C970.4 122.2 972.6 121.7 975.6 120.5C978.7 119.3 980.7 117.6 984.7 116.6C988.6 115.6 998.6 113.3 999.4 114.4C1000.1 115.4 992 120.4 989.2 122.7C986.4 125.1 981.7 127.1 982.4 128.4C983.2 129.6 990.3 129.6 993.7 130.2C997.1 130.8 999.8 130.8 1002.8 131.8C1005.8 132.8 1008.8 135.5 1011.8 136.3C1014.8 137.1 1017.9 136.9 1020.9 136.3C1023.9 135.7 1027.7 133.7 1029.9 132.9C1032.2 132.2 1032.6 132.5 1034.4 131.8C1036.3 131 1038.2 129 1041.2 128.4C1044.2 127.7 1048.8 127.4 1052.5 127.9C1056.3 128.5 1060.1 130.4 1063.8 131.8C1067.6 133.2 1071.4 134.8 1075.1 136.3C1078.9 137.8 1082.9 139.1 1086.5 140.8C1090 142.5 1095.5 147 1096.6 146.5C1097.8 145.9 1094.7 140.1 1093.2 137.4C1091.7 134.8 1089.5 133.3 1087.6 130.6C1085.7 128 1081 122.5 1081.9 121.6C1082.9 120.7 1089.8 124.6 1093.2 125C1096.6 125.4 1099.3 123.7 1102.3 123.9C1105.3 124 1108.5 125.4 1111.3 126.1C1114.2 126.9 1117.5 129.3 1119.2 128.4C1120.9 127.4 1120.2 122.2 1121.5 120.5C1122.8 118.8 1124.3 118.2 1127.1 118.2C1130 118.2 1134.7 119.1 1138.4 120.5C1142.2 121.8 1145.6 124.8 1149.8 126.1C1153.9 127.4 1158.8 127.4 1163.3 128.4C1167.8 129.3 1172.4 130.5 1176.9 131.8C1181.4 133.1 1185.9 134.4 1190.5 136.3C1195 138.2 1199.5 141 1204 143.1C1208.5 145.2 1213.1 147.2 1217.6 148.7C1222.1 150.2 1226.6 150.8 1231.2 152.1C1235.7 153.4 1240.2 155.1 1244.7 156.7C1249.3 158.2 1254.2 159.3 1258.3 161.2C1262.4 163.1 1265.8 165.5 1269.6 168C1273.4 170.4 1277.1 172.9 1280.9 175.9C1284.7 178.9 1288.8 182.7 1292.2 186C1295.6 189.4 1297.9 194.2 1301.3 196.2C1304.7 198.2 1308.8 197.2 1312.6 198C1316.3 198.9 1320.5 199.8 1323.9 201.2C1327.3 202.6 1329.7 204.2 1332.9 206.4C1336.1 208.6 1339.7 212.4 1343.1 214.3C1346.5 216.2 1349.3 216.2 1353.3 217.7C1357.2 219.2 1361.9 221.3 1366.8 223.4C1371.7 225.4 1377.4 227.5 1382.7 230.1C1388 232.8 1393.2 236.2 1398.5 239.2C1403.8 242.2 1409.4 244.8 1414.3 248.2C1419.2 251.6 1423.4 256.2 1427.9 259.5C1432.4 262.9 1437 265.8 1441.5 268.6C1446 271.4 1450.5 274.6 1455 276.5C1459.6 278.4 1463.7 279 1468.6 279.9C1473.5 280.8 1479.9 281.3 1484.4 281.7C1489 282.1 1492 281.3 1495.7 282.2C1499.5 283 1503.7 285.4 1507.1 286.7C1510.4 288 1513.7 288.2 1516.1 290.1C1518.6 292 1520.2 295.2 1521.8 298C1523.3 300.8 1524 304.2 1525.1 307C1526.3 309.9 1526.7 313.8 1528.5 314.9C1530.4 316.1 1533.8 314 1536.5 313.8C1539.1 313.6 1542.1 312.9 1544.4 313.8C1546.6 314.8 1548.7 317.4 1550 319.5C1551.3 321.5 1550 324.9 1552.3 326.3C1554.5 327.6 1559.8 327 1563.6 327.4C1567.4 327.8 1571.1 328 1574.9 328.5C1578.7 329.1 1588.1 330.2 1586.2 330.8C1584.3 331.3 1568.9 330.8 1563.6 331.9C1558.3 333 1557 335.9 1554.5 337.6C1552.1 339.3 1551.5 341.5 1548.9 342.1C1546.3 342.7 1542.3 341.5 1538.7 341C1535.1 340.4 1530.8 338.7 1527.4 338.7C1524 338.7 1519.5 339.4 1518.4 341C1517.2 342.5 1518.7 345.5 1520.6 347.7C1522.5 350 1526.7 352.3 1529.7 354.5C1532.7 356.8 1537 357.5 1538.7 361.3C1540.4 365.1 1540.6 373 1539.8 377.1C1539.1 381.3 1535.7 383.2 1534.2 386.2C1532.7 389.2 1531 392 1530.8 395.2C1530.6 398.4 1531.6 402 1533.1 405.4C1534.6 408.8 1538.3 411.6 1539.8 415.6C1541.4 419.5 1541.9 425.4 1542.1 429.2C1542.3 432.9 1540.2 435.7 1541 438.2C1541.7 440.7 1544.4 441.5 1546.5 444C1548.5 446.5 1551.6 450 1553.3 453C1555 456 1556.7 459.2 1556.7 462.1C1556.7 464.9 1554.4 467.9 1553.3 470C1552.1 472.1 1549.1 473.5 1549.9 474.5C1550.6 475.5 1554.6 475.5 1557.8 476.1C1561 476.7 1565 477 1569.1 477.9C1573.3 478.8 1578.2 480 1582.7 481.3C1587.2 482.6 1591.7 484.1 1596.2 485.8C1600.8 487.5 1606 489.2 1609.8 491.5C1613.6 493.7 1616.2 496.8 1618.9 499.4C1621.5 502 1624.1 504.9 1625.6 507.3C1627.2 509.8 1628.3 511.6 1627.9 514.1C1627.5 516.5 1623.6 519.6 1623.4 522C1623.2 524.5 1627.2 526.7 1626.8 528.8C1626.4 530.9 1623.2 532.9 1621.1 534.4C1619 535.9 1615.7 536.1 1614.3 537.8C1613 539.5 1612.5 542.4 1613.2 544.6C1614 546.9 1616.6 549.3 1618.9 551.4C1621.1 553.5 1624.1 555.2 1626.8 557.1C1629.4 558.9 1632.6 560.4 1634.7 562.7C1636.8 565 1637 568.2 1639.2 570.6C1641.5 573.1 1644.9 575.1 1648.3 577.4C1651.7 579.7 1655.8 582.1 1659.6 584.2C1663.3 586.3 1667.9 588 1670.9 589.8C1673.9 591.7 1675.8 593 1677.7 595.5C1679.5 597.9 1682.6 602.7 1682.2 604.5C1681.8 606.4 1678 607.2 1675.4 606.8C1672.8 606.4 1669.2 602.7 1666.4 602.3C1663.5 601.9 1660.7 603.2 1658.4 604.5C1656.2 605.9 1653.3 608.3 1652.8 610.2C1652.2 612.1 1653.2 614.5 1655 615.9C1656.9 617.2 1662 616.2 1664.1 618.1C1666.2 620 1667.1 623.8 1667.5 627.2C1667.9 630.6 1667.5 635.1 1666.4 638.5C1665.2 641.9 1662 644.7 1660.7 647.5C1659.4 650.3 1657.9 652.8 1658.4 655.4C1659 658.1 1662.6 660.5 1664.1 663.3C1665.6 666.2 1666.9 669.6 1667.5 672.4C1668 675.2 1666.5 678.6 1667.5 680.3C1668.4 682 1670.7 681.6 1673.1 682.6C1675.6 683.5 1679.5 684.6 1682.2 686C1684.8 687.3 1687.3 689 1689 690.5C1690.7 692 1693.1 694.4 1692.4 695C1691.6 695.6 1687.3 694.2 1684.4 693.9C1681.6 693.5 1677.7 691.8 1675.4 692.7C1673.1 693.7 1673.1 698.8 1670.9 699.5C1668.6 700.3 1664.5 698.6 1661.8 697.3C1659.2 695.9 1657.1 692.4 1655 691.6C1653 690.9 1650.7 691.2 1649.4 692.7C1648.1 694.2 1648.4 698.4 1647.1 700.7C1645.8 702.9 1641.3 704.4 1641.5 706.3C1641.7 708.2 1646.9 709.7 1648.3 712C1649.6 714.2 1648.8 717.6 1649.4 719.9C1650 722.1 1652.2 723.3 1651.7 725.5C1651.1 727.8 1647.3 731 1646 733.4C1644.7 735.9 1645.4 738.3 1643.7 740.2C1642 742.1 1637.7 742.9 1635.8 744.8C1633.9 746.6 1632.1 749.3 1632.4 751.5C1632.8 753.8 1636.6 755.3 1638.1 758.3C1639.6 761.3 1640.9 765.9 1641.5 769.6C1642 773.4 1641.3 778.1 1641.5 780.9C1641.7 783.8 1643.4 785.3 1642.6 786.6C1641.9 787.9 1638.3 786.7 1637 788.5C1635.6 790.3 1636.6 794.7 1634.7 797.6C1632.8 800.4 1628.8 803.2 1625.6 805.5C1622.4 807.7 1619.4 809.2 1615.5 811.1C1611.5 813 1605.5 814.3 1601.9 816.8C1598.3 819.2 1597.2 823 1594 825.8C1590.8 828.6 1586.4 831.3 1582.7 833.7C1578.9 836.2 1574 837.9 1571.4 840.5C1568.7 843.2 1568.2 846.6 1566.8 849.6C1565.5 852.6 1565.7 856.7 1563.5 858.6C1561.2 860.5 1557.2 859.7 1553.3 860.9C1549.3 862 1542.9 863.7 1539.7 865.4C1536.5 867.1 1535.2 868.4 1534.1 871C1532.9 873.7 1534.2 878.4 1532.9 881.2C1531.6 884.1 1528.4 885.7 1526.1 888C1523.9 890.3 1521.4 892.3 1519.4 894.8C1517.3 897.2 1515.4 900.1 1513.7 902.7C1512 905.3 1510.9 907.4 1509.2 910.6C1507.5 913.8 1505.2 918.5 1503.5 921.9C1501.8 925.3 1500.1 928.3 1499 931C1497.9 933.6 1496.9 934.7 1496.7 937.8C1496.6 940.8 1497.3 945.3 1497.9 949.1C1498.4 952.8 1499.4 956.6 1500.1 960.4C1500.9 964.1 1501.3 968.3 1502.4 971.7C1503.5 975.1 1505.4 978.3 1506.9 980.7C1508.4 983.2 1510.9 984.1 1511.4 986.4C1512 988.6 1510.7 992 1510.3 994.3C1509.9 996.6 1510.5 997.9 1509.2 999.9C1507.9 1002 1504.1 1004.3 1502.4 1006.7C1500.7 1009.2 1500.1 1011.6 1499 1014.6C1497.9 1017.7 1496.7 1021.4 1495.6 1024.8C1494.5 1028.2 1493.5 1031.8 1492.2 1035C1490.9 1038.2 1489.8 1042.2 1487.7 1044C1485.6 1045.9 1481.9 1045 1479.8 1046.3C1477.7 1047.6 1476.2 1049.3 1475.3 1052C1474.3 1054.6 1474.9 1058.9 1474.1 1062.1C1473.4 1065.3 1471.1 1067.8 1470.7 1071.2C1470.4 1074.6 1471.1 1079.3 1471.9 1082.5C1472.6 1085.7 1474.3 1088.1 1475.3 1090.4C1476.2 1092.7 1478.1 1094 1477.5 1096.1C1477 1098.1 1473.8 1101 1471.9 1102.8C1470 1104.7 1468.5 1107.7 1466.2 1107.4C1464 1107 1461.1 1102.8 1458.3 1100.6C1455.5 1098.3 1452.3 1094.2 1449.3 1093.8C1446.2 1093.4 1443.4 1097 1440.2 1098.3C1437 1099.6 1433 1101 1430 1101.7C1427 1102.5 1423.2 1100.8 1422.1 1102.8C1421 1104.9 1424 1114.2 1423.2 1114.2C1422.5 1114.2 1419.7 1105.5 1417.6 1102.8C1415.5 1100.2 1412.9 1100.6 1410.8 1098.3C1408.7 1096.1 1407 1092.1 1405.2 1089.3C1403.3 1086.4 1402 1082.9 1399.5 1081.4C1397.1 1079.9 1393.3 1079.3 1390.5 1080.2C1387.6 1081.2 1384 1084.8 1382.5 1087C1381 1089.3 1380.7 1091.2 1381.4 1093.8C1382.2 1096.4 1385.9 1099.5 1387.1 1102.8C1388.2 1106.2 1387.6 1110.8 1388.2 1114.2C1388.8 1117.5 1390.6 1120.2 1390.5 1123.2C1390.3 1126.2 1387.9 1129.4 1387.1 1132.2C1386.3 1135.1 1386.1 1137.8 1385.6 1140.1C1385.2 1142.3 1385.1 1143.7 1384.3 1145.5C1383.5 1147.3 1382.5 1149.7 1380.9 1150.9C1379.3 1152.1 1376.8 1153.2 1374.8 1152.9C1372.7 1152.7 1370 1151.2 1368.7 1149.5C1367.3 1147.9 1366.3 1144.8 1366.6 1142.8C1367 1140.7 1369 1138 1370.7 1137.3C1372.4 1136.7 1375.9 1139.6 1376.8 1138.7C1377.7 1137.8 1376.7 1134.1 1376.1 1131.9C1375.6 1129.8 1374.9 1126.6 1373.4 1125.8C1371.9 1125 1369.5 1126.4 1367.3 1127.2C1365.2 1128 1362.6 1129 1360.5 1130.6C1358.5 1132.1 1356.4 1134.2 1355.1 1136.7C1353.9 1139.2 1354 1140.6 1353.1 1145.5C1352.2 1150.3 1352.4 1163.6 1349.7 1165.8C1347 1168.1 1339.9 1161.3 1336.8 1159C1333.7 1156.8 1333.2 1155 1331.4 1152.3C1329.6 1149.5 1328.2 1146.2 1325.9 1142.8C1323.7 1139.4 1320.8 1135.8 1317.8 1131.9C1314.9 1128.1 1310.5 1123.1 1308.3 1119.7C1306.2 1116.3 1305.5 1112.9 1304.9 1111.6"/>
<path class="bd" style="stroke-width:11.8" d="M1304.9 1111.6C1302.7 1108.3 1294.9 1095.7 1291.7 1092C1288.6 1088.4 1288 1089.4 1286.1 1089.8C1284.2 1090.2 1281.2 1091.7 1280.4 1094.3C1279.7 1096.9 1281.9 1102.2 1281.5 1105.6C1281.2 1109 1280 1112.4 1278.2 1114.6C1276.3 1116.9 1272.7 1117.7 1270.2 1119.2C1267.8 1120.7 1265 1121.4 1263.5 1123.7C1261.9 1126 1261.4 1128.6 1261.2 1132.7C1261 1136.9 1261.2 1142.5 1262.3 1148.6C1263.5 1154.6 1267.2 1163.6 1268 1168.9C1268.7 1174.2 1267.4 1176.5 1266.8 1180.2C1266.3 1184 1265.2 1188.1 1264.6 1191.5C1264 1194.9 1263.5 1197.2 1263.5 1200.6C1263.5 1204 1265.2 1208.5 1264.6 1211.9C1264 1215.3 1262.3 1219.1 1260.1 1220.9C1257.8 1222.8 1253.7 1222.1 1251 1223.2C1248.4 1224.3 1245.4 1227 1244.2 1227.7"/>
<path class="bd" style="stroke-width:12" d="M1222.7 1227.7C1223.3 1227.2 1224.4 1225.8 1226.1 1224.3C1227.8 1222.8 1231.8 1221.1 1232.9 1218.7C1234.1 1216.2 1232.5 1213 1232.9 1209.6C1233.3 1206.2 1234.4 1202.5 1235.2 1198.3C1235.9 1194.2 1237.4 1189.3 1237.4 1184.8C1237.4 1180.2 1235.4 1175.3 1235.2 1171.2C1235 1167 1236.5 1163.6 1236.3 1159.9C1236.1 1156.1 1234.1 1152.3 1234.1 1148.6C1234.1 1144.8 1236.3 1140.7 1236.3 1137.3C1236.3 1133.9 1234.6 1131.6 1234.1 1128.2C1233.5 1124.8 1233.1 1120.7 1232.9 1116.9C1232.7 1113.1 1234.6 1108.2 1232.9 1105.6C1231.2 1103 1226.1 1102 1222.7 1101.1C1219.4 1100.1 1214.5 1099.2 1212.6 1099.9C1210.7 1100.7 1212.8 1103.5 1211.4 1105.6C1210.1 1107.7 1206.2 1112.8 1204.7 1112.4C1203.2 1112 1203.5 1106.4 1202.4 1103.3C1201.3 1100.3 1199.2 1097.7 1197.9 1094.3C1196.6 1090.9 1195.8 1086.6 1194.5 1083C1193.2 1079.4 1191.1 1076.2 1190 1072.8C1188.8 1069.4 1189.6 1066 1187.7 1062.6C1185.8 1059.2 1181.7 1055.3 1178.7 1052.5C1175.6 1049.6 1173 1047.2 1169.6 1045.7C1166.2 1044.2 1162.4 1043.4 1158.3 1043.4C1154.2 1043.4 1148.7 1044.4 1144.7 1045.7C1140.8 1047 1137.4 1049.3 1134.6 1051.3C1131.7 1053.4 1128.7 1055.9 1127.8 1058.1C1126.8 1060.4 1128 1062.6 1128.9 1064.9C1129.8 1067.2 1132.9 1069.2 1133.4 1071.7C1134 1074.1 1133.4 1078.1 1132.3 1079.6C1131.2 1081.1 1129.1 1079.6 1126.6 1080.7C1124.2 1081.9 1120.6 1083.9 1117.6 1086.4C1114.6 1088.8 1110.4 1094.5 1108.5 1095.4C1106.7 1096.4 1108.4 1093.9 1106.3 1092C1104.2 1090.2 1098 1086.8 1096.1 1084.1C1094.2 1081.5 1095.7 1078.7 1095 1076.2C1094.2 1073.8 1092.5 1072.4 1091.6 1069.4C1090.6 1066.4 1090.1 1061.9 1089.3 1058.1C1088.6 1054.3 1088.8 1048.5 1087.1 1046.8C1085.4 1045.1 1082 1046.4 1079.1 1047.9C1076.3 1049.4 1073.3 1053.4 1070.1 1055.9C1066.9 1058.3 1063.1 1062.3 1059.9 1062.6C1056.7 1063 1053 1060.4 1050.9 1058.1C1048.8 1055.9 1049.6 1051.7 1047.5 1049.1C1045.4 1046.4 1041.3 1044.4 1038.4 1042.3C1035.6 1040.2 1031.3 1038.5 1030.5 1036.6C1029.8 1034.7 1031.5 1032.5 1033.9 1031C1036.4 1029.5 1042.8 1029.1 1045.2 1027.6C1047.7 1026.1 1049.6 1023.6 1048.6 1021.9C1047.7 1020.2 1042 1020 1039.6 1017.4C1037.1 1014.8 1036 1008.9 1033.9 1006.1C1031.8 1003.3 1029.4 1002.5 1027.1 1000.4C1024.9 998.4 1023.2 994 1020.4 993.7C1017.5 993.3 1013.3 996.9 1010 998.2C1006.8 999.5 1004 1001.4 1001 1001.6C998 1001.8 995.3 998.9 991.9 999.3C988.5 999.7 983.5 1004.2 980.6 1003.8C977.8 1003.5 977.2 999.3 975 997.1C972.7 994.8 970.1 992.2 967.1 990.3C964 988.4 960.3 985.9 956.9 985.7C953.5 985.6 950.7 988.4 946.7 989.1C942.7 989.9 936.9 989.3 933.1 990.3C929.4 991.2 926.7 992.9 924.1 994.8C921.5 996.7 918.4 998.9 917.3 1001.6C916.2 1004.2 916 1008 917.3 1010.6C918.6 1013.3 924.8 1014.4 925.2 1017.4C925.6 1020.4 922.2 1027.2 919.6 1028.7C916.9 1030.2 911.7 1025.9 909.4 1026.5C907.1 1027 906.6 1029.1 906 1032.1C905.4 1035.1 907.5 1041.7 906 1044.5C904.5 1047.4 900.2 1047.6 897 1049.1C893.7 1050.6 890.2 1054.2 886.8 1053.6C883.4 1053 878.9 1045.3 876.6 1045.7C874.3 1046.1 875.1 1053.4 873.2 1055.9C871.3 1058.3 868.9 1059.8 865.3 1060.4C861.7 1060.9 856.2 1059.4 851.7 1059.2C847.2 1059.1 842.3 1058.7 838.2 1059.2C834 1059.8 830.1 1060.9 826.8 1062.6C823.6 1064.3 820.4 1067 818.9 1069.4C817.4 1071.9 818.4 1073.9 817.8 1077.3C817.2 1080.7 817.4 1087.9 815.5 1089.8C813.7 1091.7 809.9 1088.8 806.5 1088.6C803.1 1088.5 798.6 1087.5 795.2 1088.6C791.8 1089.8 789.5 1093.5 786.1 1095.4C782.7 1097.3 778.6 1098.3 774.8 1099.9C771.1 1101.6 767.3 1103.3 763.5 1105.6C759.8 1107.9 756 1111.6 752.2 1113.5C748.5 1115.4 744.1 1115 740.9 1116.9C737.7 1118.8 735.3 1122 733 1124.8C730.7 1127.7 728.9 1133.5 727.3 1133.9C725.8 1134.2 725.1 1129.5 724 1127.1C722.8 1124.6 721.3 1121.8 720.6 1119.2C719.8 1116.5 720.6 1113.5 719.4 1111.3C718.3 1109 716 1107.5 713.8 1105.6C711.5 1103.7 708.3 1100.3 705.9 1099.9C703.4 1099.6 701.5 1103 699.1 1103.3C696.6 1103.7 693.8 1102.6 691.2 1102.2C688.5 1101.8 684 1103.3 683.2 1101.1C682.5 1098.8 686.1 1091.8 686.6 1088.6C687.2 1085.4 687.8 1083.9 686.6 1081.9C685.5 1079.8 682.1 1078.1 679.9 1076.2C677.6 1074.3 675.5 1071.9 673.1 1070.6C670.7 1069.2 668.5 1067.3 665.6 1068.3C662.6 1069.2 658 1073.4 655.4 1076.2C652.7 1079 652 1083.9 649.7 1085.3C647.5 1086.6 644.3 1085.4 641.8 1084.1C639.4 1082.8 637.7 1079.6 635 1077.3C632.4 1075.1 629 1072.4 626 1070.6C623 1068.7 620.3 1066.4 616.9 1066C613.5 1065.7 609.4 1068.1 605.6 1068.3C601.9 1068.5 597.7 1068.7 594.3 1067.2C590.9 1065.7 588.7 1060.8 585.3 1059.2C581.9 1057.7 577.2 1057.7 574 1058.1C570.8 1058.5 569.1 1061.5 566 1061.5C563 1061.5 558.9 1059.6 555.9 1058.1C552.9 1056.6 550.4 1052.6 548 1052.5C545.5 1052.3 544 1055.7 541.2 1057C538.3 1058.3 533.8 1058.3 531 1060.4C528.2 1062.4 525.9 1066.6 524.2 1069.4C522.5 1072.2 522 1074.7 520.6 1077C519.3 1079.4 517.7 1082 516.1 1083.4C514.4 1084.7 512.4 1083.7 510.6 1085.2C508.8 1086.7 507.2 1089.1 505.2 1092.4C503.2 1095.7 500.5 1101.4 498.8 1105C497.2 1108.6 495.4 1111.8 495.2 1114C495.1 1116.3 496.9 1117 497.9 1118.5C499 1120 501.3 1121.6 501.6 1123.1C501.9 1124.6 500.8 1126.2 499.8 1127.6C498.7 1128.9 496.9 1130.1 495.2 1131.2C493.6 1132.2 491.4 1132.8 489.8 1133.9C488.1 1134.9 486.7 1137.5 485.2 1137.5C483.7 1137.5 481.5 1135.2 480.7 1133.9C479.9 1132.5 481.3 1130.9 480.7 1129.4C480.1 1127.9 478.6 1126.2 477.1 1124.9C475.6 1123.5 472.8 1122.8 471.6 1121.3C470.4 1119.7 470.4 1117.9 469.8 1115.8C469.2 1113.7 468 1110.7 468 1108.6C468 1106.5 468.9 1105.3 469.8 1103.2C470.7 1101.1 472.7 1098.4 473.4 1096C474.2 1093.6 473.9 1090.4 474.4 1088.8C474.8 1087.1 476.1 1087.3 476.2 1086.1C476.2 1084.9 475 1083.2 474.8 1081.5C474.7 1079.9 475.8 1077.9 475.3 1076.1C474.7 1074.3 473.3 1072.1 471.6 1070.7C470 1069.4 467.7 1068.9 465.3 1068C462.9 1067.1 459.7 1065.3 457.1 1065.3C454.5 1065.4 452.3 1067 449.6 1068.3C446.8 1069.5 443.9 1071.7 440.5 1072.8C437.1 1073.9 432.4 1074.5 429.2 1075.1C426 1075.6 423.6 1074.9 421.3 1076.2C419.1 1077.5 418.5 1082.4 415.7 1083C412.8 1083.6 407.6 1080.5 404.4 1079.6C401.2 1078.7 398.9 1075.8 396.4 1077.3C394 1078.8 391.9 1086.9 389.7 1088.6C387.4 1090.3 385.3 1088.3 382.9 1087.5C380.4 1086.8 377.8 1084.5 375 1084.1C372.1 1083.7 368.9 1085.1 365.9 1085.3C362.9 1085.4 359.9 1084.9 356.9 1085.3C353.9 1085.6 350.5 1087.5 347.8 1087.5C345.2 1087.5 343.3 1086.9 341 1085.3C338.8 1083.6 336.9 1079.4 334.3 1077.3C331.6 1075.3 328.2 1074.3 325.2 1072.8C322.2 1071.3 319.2 1069.8 316.2 1068.3C313.1 1066.8 309.9 1064.1 307.1 1063.8C304.3 1063.4 301.1 1064 299.2 1066C297.3 1068.1 297.5 1073.8 295.8 1076.2C294.1 1078.7 291.7 1080.5 289 1080.7C286.4 1080.9 282.8 1078.5 280 1077.3C277.2 1076.2 273 1076 272.1 1073.9C271.1 1071.9 274.7 1067.2 274.3 1064.9C273.9 1062.6 271.9 1060.2 269.8 1060.4C267.7 1060.6 262.6 1063.4 261.9 1066C261.1 1068.7 265.7 1073.6 265.3 1076.2C264.9 1078.8 261.7 1081.5 259.6 1081.9C257.6 1082.2 254.5 1080.5 252.8 1078.5C251.1 1076.4 251 1072.6 249.5 1069.4C247.9 1066.2 245.7 1062.3 243.8 1059.2C241.9 1056.2 239.5 1054.3 238.1 1051.3C236.8 1048.3 237 1042.7 235.9 1041.2C234.8 1039.6 233.1 1040.4 231.4 1042.3C229.7 1044.2 227.2 1051.3 225.7 1052.5C224.2 1053.6 224.2 1050.2 222.3 1049.1C220.4 1047.9 217.4 1045.9 214.4 1045.7C211.4 1045.5 207.4 1047.9 204.2 1047.9C201 1047.9 197.2 1047.7 195.2 1045.7C193.1 1043.6 192 1038.7 191.8 1035.5C191.6 1032.3 194 1029.1 194 1026.5C194 1023.8 193 1021 191.8 1019.7C190.6 1018.4 187.6 1018.7 186.8 1018.5"/>
<path class="bd" style="stroke-width:14.5" d="M975.6 121.1C977.5 120.5 983 118.6 987 117.5C990.9 116.5 999 113.9 999.4 114.8C999.8 115.7 992.2 120.5 989.2 122.7C986.2 125 980.5 127.1 981.3 128.4C982.1 129.6 991.7 129.9 993.7 130.2"/>
<path class="bd" style="stroke-width:14" d="M1080.8 122.7C1082.1 124.4 1086.1 129 1088.7 132.9C1091.4 136.8 1095.3 143.8 1096.6 146"/>
<path class="bd" style="stroke-width:16.5" d="M1554.5 327.8C1556.8 328.1 1563 328.7 1568.1 329.4C1573.2 330.1 1582.4 331.5 1585.3 331.9"/>
<path class="bd" style="stroke-width:14" d="M1552.3 335.3C1552.7 336.2 1554.2 340 1554.5 341"/>
<path class="bd" style="stroke-width:14.5" d="M1670.9 593.2C1672.2 594.2 1676.9 596.9 1678.8 598.9C1680.7 600.9 1681.6 604 1682.2 605"/>
<path class="bd" style="stroke-width:13.5" d="M1675.4 687.1C1677.1 687.7 1682.6 689.1 1685.6 690.5C1688.5 691.9 1691.8 694.6 1693 695.5"/>
<path class="bd" style="stroke-width:14" d="M192.2 1019.2C192.6 1020.4 194.5 1023.7 194.5 1026.5C194.5 1029.2 192.6 1034 192.2 1035.5"/>
<path class="bd" style="stroke-width:15" d="M1422.1 1102.8C1422.4 1104.7 1423.6 1111.9 1423.9 1113.7"/>
<path class="bd" style="stroke-width:15" d="M1422.9 1106.7C1423.3 1108.1 1425.1 1113.7 1425.6 1115.1"/>
<circle cx="991.5" cy="121.1" r="9.5" fill="#16120f"/>
<circle cx="997.1" cy="115.9" r="8" fill="#16120f"/>
<circle cx="1086.5" cy="128.4" r="8" fill="#16120f"/>
<circle cx="1092.1" cy="138.6" r="7.5" fill="#16120f"/>
<circle cx="1559.1" cy="332.4" r="8" fill="#16120f"/>
<circle cx="1679.9" cy="602.3" r="8" fill="#16120f"/>
<circle cx="1424.4" cy="1108.5" r="8.5" fill="#16120f"/>
<circle cx="1425.1" cy="1112.4" r="8" fill="#16120f"/>
</g>
<ellipse class="R" cx="1211.3" cy="198" rx="19.2" ry="20.4"/>
<ellipse class="R" cx="976.8" cy="274.9" rx="38.1" ry="40"/>
<ellipse class="R" cx="1457.3" cy="313.1" rx="19.2" ry="20.4"/>
<ellipse class="R" cx="940.6" cy="391.2" rx="38.1" ry="40"/>
<ellipse class="R" cx="1057.1" cy="390.3" rx="38.1" ry="40"/>
<ellipse class="R" cx="1195.6" cy="512.8" rx="19.2" ry="20.4"/>
<ellipse class="R" cx="1455.6" cy="528.1" rx="30.4" ry="32.2"/>
<ellipse class="R" cx="1008.2" cy="576.5" rx="38.1" ry="40"/>
<ellipse class="R" cx="1111.7" cy="603.2" rx="38.1" ry="40"/>
<ellipse class="R" cx="1305" cy="607.3" rx="30.4" ry="32.2"/>
<ellipse class="R" cx="1492.9" cy="587.1" rx="30.4" ry="32.2"/>
<ellipse class="R" cx="1446.5" cy="633.5" rx="38.1" ry="40"/>
<ellipse class="R" cx="1103.4" cy="666.5" rx="19.2" ry="20.4"/>
<ellipse class="R" cx="1186.5" cy="669.1" rx="30.4" ry="32.2"/>
<ellipse class="R" cx="1390.5" cy="673.5" rx="19.2" ry="20.4"/>
<ellipse class="R" cx="1528.9" cy="684.1" rx="38.1" ry="40"/>
<ellipse class="R" cx="648.4" cy="720.7" rx="19.2" ry="20.4"/>
<ellipse class="R" cx="565.2" cy="799.2" rx="30.4" ry="32.2"/>
<ellipse class="R" cx="722.9" cy="791.3" rx="19.2" ry="20.4"/>
<ellipse class="R" cx="458.5" cy="834.3" rx="30.4" ry="32.2"/>
<ellipse class="R" cx="648.3" cy="872.5" rx="19.2" ry="20.4"/>
<ellipse class="R" cx="816.2" cy="856.7" rx="19.2" ry="20.4"/>
<ellipse class="R" cx="650.5" cy="937.8" rx="30.4" ry="32.2"/>
<ellipse class="R" cx="699.8" cy="972.2" rx="38.1" ry="40"/>
<ellipse class="R" cx="713.8" cy="1075.1" rx="30.4" ry="32.2"/>
<ellipse class="R" cx="493" cy="1095.4" rx="30.4" ry="32.2"/>
<ellipse class="R" cx="1358.1" cy="726.2" rx="30.4" ry="32.2"/>
<ellipse class="R" cx="1333.5" cy="780.5" rx="38.1" ry="40"/>
<ellipse class="R" cx="1061.8" cy="733" rx="30.4" ry="32.2"/>
<ellipse class="R" cx="994.1" cy="795.6" rx="30.4" ry="32.2"/>
<ellipse class="R" cx="1165.8" cy="938.2" rx="30.4" ry="32.2"/>
<ellipse class="R" cx="1353.7" cy="911.2" rx="19.2" ry="20.4"/>
<ellipse class="R" cx="1355.8" cy="988.4" rx="30.4" ry="32.2"/>
<ellipse class="R" cx="1449.6" cy="1120.2" rx="19.2" ry="20.4"/>
<ellipse class="D" cx="1300.4" cy="229" rx="19.2" ry="20.4"/>
<ellipse class="D" cx="1352.1" cy="248.7" rx="30.4" ry="32.2"/>
<ellipse class="D" cx="1130.6" cy="313.8" rx="38.1" ry="40"/>
<ellipse class="D" cx="1186.6" cy="400.9" rx="38.1" ry="40"/>
<ellipse class="D" cx="1556" cy="506.2" rx="30.4" ry="32.2"/>
<ellipse class="D" cx="971.2" cy="676.2" rx="19.2" ry="20.4"/>
<ellipse class="D" cx="1607.6" cy="696.8" rx="38.1" ry="40"/>
<ellipse class="D" cx="819.6" cy="202.3" rx="19.2" ry="20.4"/>
<ellipse class="D" cx="854.5" cy="758.7" rx="30.4" ry="32.2"/>
<ellipse class="D" cx="576.8" cy="957.5" rx="38.1" ry="40"/>
<ellipse class="D" cx="477.4" cy="972.2" rx="38.1" ry="40"/>
<ellipse class="D" cx="379" cy="986" rx="38.1" ry="40"/>
<ellipse class="D" cx="532.8" cy="998.9" rx="30.4" ry="32.2"/>
<ellipse class="D" cx="339" cy="1022.6" rx="38.1" ry="40"/>
<ellipse class="D" cx="1504.2" cy="757.2" rx="19.2" ry="20.4"/>
<ellipse class="D" cx="1114.9" cy="818" rx="19.2" ry="20.4"/>
<ellipse class="D" cx="1513.7" cy="830.3" rx="38.1" ry="40"/>
<ellipse class="D" cx="1007.4" cy="921.9" rx="38.1" ry="40"/>
<ellipse class="D" cx="1263.7" cy="911.5" rx="19.2" ry="20.4"/>
<ellipse class="D" cx="1484.4" cy="907.2" rx="38.1" ry="40"/>
<ellipse class="D" cx="1448.1" cy="992.5" rx="19.2" ry="20.4"/>
<ellipse class="D" cx="1138.2" cy="1020.9" rx="38.1" ry="40"/>
<ellipse class="D" cx="1309.6" cy="1087.4" rx="30.4" ry="32.2"/>
<ellipse class="D" cx="1277.5" cy="1140.9" rx="30.4" ry="32.2"/>
<ellipse class="D" cx="1349.8" cy="1165.1" rx="19.2" ry="20.4"/>
<rect class="fr" x="187.8" y="106.1" width="1521.4" height="1128.2"/>
<line class="tk" x1="168.2" x2="185" y1="104.7" y2="104.7"/>
<text class="ax" transform="translate(152.1,122.1) scale(0.962,1)" text-anchor="end">40°N</text>
<line class="tk" x1="168.2" x2="185" y1="266.3" y2="266.3"/>
<text class="ax" transform="translate(152.1,283.7) scale(0.962,1)" text-anchor="end">38°N</text>
<line class="tk" x1="168.2" x2="185" y1="427.8" y2="427.8"/>
<text class="ax" transform="translate(152.1,445.2) scale(0.962,1)" text-anchor="end">36°N</text>
<line class="tk" x1="168.2" x2="185" y1="589.4" y2="589.4"/>
<text class="ax" transform="translate(152.1,606.8) scale(0.962,1)" text-anchor="end">34°N</text>
<line class="tk" x1="168.2" x2="185" y1="750.9" y2="750.9"/>
<text class="ax" transform="translate(152.1,768.3) scale(0.962,1)" text-anchor="end">32°N</text>
<line class="tk" x1="168.2" x2="185" y1="912.5" y2="912.5"/>
<text class="ax" transform="translate(152.1,929.9) scale(0.962,1)" text-anchor="end">30°N</text>
<line class="tk" x1="168.2" x2="185" y1="1074.1" y2="1074.1"/>
<text class="ax" transform="translate(152.1,1091.5) scale(0.962,1)" text-anchor="end">28°N</text>
<line class="tk" x1="168.2" x2="185" y1="1235.6" y2="1235.6"/>
<text class="ax" transform="translate(152.1,1253) scale(0.962,1)" text-anchor="end">26°N</text>
<line class="tk" x1="186.4" x2="186.4" y1="1237" y2="1254"/>
<text class="ax" transform="translate(130.1,1317.6) scale(0.943,1)">85°E</text>
<line class="tk" x1="570.3" x2="570.3" y1="1237" y2="1254"/>
<text class="ax" transform="translate(505.6,1317.6) scale(0.943,1)">90°E</text>
<line class="tk" x1="953.2" x2="953.2" y1="1237" y2="1254"/>
<text class="ax" transform="translate(884.5,1317.6) scale(0.943,1)">95°E</text>
<line class="tk" x1="1329.6" x2="1329.6" y1="1237" y2="1254"/>
<text class="ax" transform="translate(1263.6,1317.6) scale(0.943,1)">100°E</text>
<line class="tk" x1="1710.6" x2="1710.6" y1="1237" y2="1254"/>
<text class="ax" transform="translate(1630,1317.6) scale(0.943,1)">105°E</text>
<text class="ax" x="948.5" y="60.1" text-anchor="middle">(b)</text>
<ellipse class="D" cx="262.4" cy="379.9" rx="38.1" ry="40"/>
<text class="lg"><tspan class="it" x="322.4" y="393">x</tspan><tspan class="lt" x="345.6" y="391.5" textLength="32.712" lengthAdjust="spacingAndGlyphs">&lt;</tspan><tspan x="377.9" y="393">0.5</tspan></text>
<ellipse class="D" cx="261.4" cy="463.6" rx="30.4" ry="32.2"/>
<text class="lg"><tspan x="323.2" y="473">0.5</tspan><tspan class="sy" x="393.2" y="466.6" textLength="46.7604" lengthAdjust="spacingAndGlyphs">⩽</tspan><tspan class="it" x="444.8" y="473">x</tspan><tspan class="lt" x="468.8" y="471.5" textLength="32.712" lengthAdjust="spacingAndGlyphs">&lt;</tspan><tspan x="500.1" y="473">0.7</tspan></text>
<ellipse class="D" cx="261.4" cy="543.5" rx="19.2" ry="20.4"/>
<text class="lg"><tspan x="323.3" y="552.9">0.7</tspan><tspan class="sy" x="392.5" y="546.5" textLength="46.7604" lengthAdjust="spacingAndGlyphs">⩽</tspan><tspan class="it" x="444.3" y="552.9">x</tspan><tspan class="lt" x="467.3" y="551.4" textLength="32.712" lengthAdjust="spacingAndGlyphs">&lt;</tspan><tspan x="501.5" y="552.9">1</tspan></text>
<ellipse class="R" cx="261.4" cy="621.2" rx="19.2" ry="20.4"/>
<text class="lg"><tspan x="325.3" y="633">1</tspan><tspan class="sy" x="351.9" y="626.6" textLength="46.7604" lengthAdjust="spacingAndGlyphs">⩽</tspan><tspan class="it" x="403.7" y="633">x</tspan><tspan class="lt" x="426.7" y="631.5" textLength="32.712" lengthAdjust="spacingAndGlyphs">&lt;</tspan><tspan x="460.9" y="633">1.5</tspan></text>
<ellipse class="R" cx="262.4" cy="695" rx="30.4" ry="32.2"/>
<text class="lg"><tspan x="325.3" y="712.9">1.5</tspan><tspan class="sy" x="392.6" y="706.5" textLength="46.7604" lengthAdjust="spacingAndGlyphs">⩽</tspan><tspan class="it" x="444.4" y="712.9">x</tspan><tspan class="lt" x="467.3" y="711.4" textLength="32.712" lengthAdjust="spacingAndGlyphs">&lt;</tspan><tspan x="497.9" y="712.9">2</tspan></text>
<ellipse class="R" cx="260.3" cy="780.3" rx="38.1" ry="40"/>
<text class="lg"><tspan class="it" x="323.2" y="792">x</tspan><tspan class="sy" x="351" y="785.6" textLength="46.7604" lengthAdjust="spacingAndGlyphs">⩾</tspan><tspan x="400.6" y="792">2</tspan></text>
</g>
<g transform="translate(0,1396)">
<clipPath id="cpc"><rect x="188" y="106" width="1521" height="1128"/></clipPath>
<g clip-path="url(#cpc)">
<path class="bd" d="M185.8 333C186.6 332.4 187.3 331.3 190.8 329.6C194.2 327.9 201.7 324.6 206.6 322.7C211.4 320.8 215.6 319.9 220.1 318.2C224.6 316.5 229.1 314.2 233.6 312.5C238.1 310.8 243 309.6 247.2 307.9C251.3 306.2 255.4 304.3 258.4 302.2C261.4 300.2 263.1 298.1 265.2 295.4C267.3 292.7 269 289.7 270.8 286.3C272.7 282.9 274.4 277.7 276.5 274.9C278.5 272.1 280.6 271.1 283.2 269.2C285.9 267.3 289.3 265 292.3 263.5C295.3 262 298.3 261.4 301.3 260.1C304.3 258.8 307.3 257.1 310.3 255.5C313.3 254 316.7 252.3 319.3 251C322 249.7 323.1 247.9 326.1 247.6C329.1 247.2 334 248.7 337.4 248.7C340.8 248.7 343 248.1 346.4 247.6C349.8 247 353.9 245.9 357.7 245.3C361.4 244.7 365.9 244.5 369 244.1C372 243.8 373.5 244.3 375.7 243C378 241.7 380.2 238.5 382.5 236.2C384.7 233.9 386.6 231.4 389.3 229.3C391.9 227.3 395.5 225.5 398.3 223.6C401.1 221.7 403.9 218.3 406.2 217.9C408.4 217.6 410.1 220.6 411.8 221.4C413.5 222.1 414.4 222.9 416.3 222.5C418.2 222.1 420.8 220.4 423.1 219.1C425.3 217.8 428.3 217 429.9 214.5C431.4 212.1 429.9 206.9 432.1 204.3C434.4 201.6 440 200.3 443.4 198.6C446.8 196.9 449.8 195.5 452.4 194C455 192.5 456.5 190.7 459.2 189.5C461.8 188.2 465.2 186.7 468.2 186.5C471.2 186.3 474.4 188 477.2 188.3C480 188.6 482.7 187.8 485.1 188.3C487.6 188.9 489.4 191.7 491.9 191.7C494.3 191.7 497 189.4 499.8 188.3C502.6 187.3 505.8 185.7 508.8 185.6C511.8 185.5 514.8 187.5 517.8 187.9C520.8 188.3 523.6 188 526.8 187.9C530 187.8 534 188.4 537 187.2C540 185.9 542.4 182 544.9 180.4C547.3 178.7 548.6 177.6 551.7 177.4C554.7 177.2 559.5 179.1 562.9 179.2C566.3 179.3 569.5 179 572 178.1C574.4 177.1 576.3 175.3 577.6 173.5C578.9 171.7 578.2 168.8 579.8 167.4C581.5 166 584.9 165.6 587.7 165.1C590.6 164.6 593.8 164 596.8 164.4C599.8 164.8 602 166.7 605.8 167.4C609.5 168 615.2 167.4 619.3 168.3C623.5 169.1 626.8 171.9 630.6 172.4C634.4 172.9 637.9 172 641.9 171.2C645.8 170.5 650.5 168 654.3 167.8C658 167.6 661.2 169.7 664.4 170.1C667.6 170.5 672.5 170.1 673.5 170.1C674.4 170.1 668.6 170.5 670.3 170.2C672.1 169.8 679.6 168.8 683.9 167.9C688.2 166.9 692.9 164.7 696.3 164.5C699.7 164.3 701 165.9 704.2 166.7C707.4 167.6 711.3 169 715.5 169.5C719.6 169.9 724.9 168.7 729 169.5C733.1 170.2 736.5 173.3 740.3 174C744 174.8 747.8 174.5 751.5 174C755.3 173.6 760.4 172.9 762.8 171.3C765.3 169.7 764.3 166.2 766.2 164.5C768.1 162.8 770.9 161.9 774.1 161C777.3 160.2 781.2 159.9 785.4 159.5C789.5 159 794.8 159.2 798.9 158.3C803 157.4 806.8 155.3 810.2 154.2C813.6 153.1 817.3 153.5 819.2 151.9C821.1 150.4 819.6 146.8 821.5 145.1C823.3 143.4 827.1 142.1 830.5 141.7C833.9 141.3 838.6 142.1 841.8 142.8C845 143.6 847.4 145 849.7 146.2C851.9 147.5 852.5 149.5 855.3 150.3C858.1 151.2 862.4 151.2 866.6 151.3C870.7 151.3 875.6 151.4 880.1 150.8C884.6 150.1 889.1 148.4 893.6 147.4C898.2 146.4 902.3 145.4 907.2 144.6C912.1 143.9 918.1 142.6 923 142.8C927.9 143 933.1 145.4 936.5 145.8C939.9 146.2 941.8 146.7 943.3 145.1C944.8 143.5 944.4 138.5 945.5 136C946.6 133.5 947 132.4 950 130.3C953 128.2 959.8 125.2 963.6 123.5C967.3 121.7 969.6 121.3 972.6 120C975.6 118.8 977.7 117.2 981.6 116.2C985.6 115.1 995.5 112.9 996.3 113.9C997 114.9 988.9 120 986.1 122.3C983.3 124.7 978.6 126.8 979.4 128C980.1 129.3 987.2 129.3 990.6 129.8C994 130.4 996.6 130.4 999.7 131.4C1002.7 132.5 1005.7 135.2 1008.7 136C1011.7 136.7 1014.7 136.6 1017.7 136C1020.7 135.4 1024.5 133.3 1026.7 132.6C1029 131.8 1029.4 132.2 1031.2 131.4C1033.1 130.7 1035 128.7 1038 128C1041 127.4 1045.5 127 1049.3 127.6C1053 128.1 1056.8 130 1060.6 131.4C1064.3 132.8 1068.1 134.5 1071.8 136C1075.6 137.5 1079.5 138.8 1083.1 140.5C1086.7 142.3 1092.1 146.8 1093.3 146.2C1094.4 145.7 1091.4 139.8 1089.9 137.1C1088.4 134.5 1086.1 132.9 1084.2 130.3C1082.4 127.6 1077.7 122.1 1078.6 121.2C1079.5 120.2 1086.5 124.2 1089.9 124.6C1093.3 125 1095.9 123.3 1098.9 123.5C1101.9 123.6 1105.1 125 1107.9 125.7C1110.7 126.5 1114.1 129 1115.8 128C1117.5 127.1 1116.8 121.7 1118.1 120C1119.4 118.3 1120.9 117.8 1123.7 117.8C1126.5 117.8 1131.2 118.7 1135 120C1138.7 121.4 1142.1 124.4 1146.2 125.7C1150.4 127.1 1155.3 127.1 1159.8 128C1164.3 129 1168.8 130.1 1173.3 131.4C1177.8 132.8 1182.3 134.1 1186.8 136C1191.4 137.9 1195.9 140.7 1200.4 142.8C1204.9 144.9 1209.4 147 1213.9 148.5C1218.4 150 1222.9 150.6 1227.4 151.9C1232 153.3 1236.5 155 1241 156.5C1245.5 158 1250.4 159.1 1254.5 161C1258.6 162.9 1262 165.4 1265.8 167.9C1269.5 170.3 1273.3 172.8 1277.1 175.9C1280.8 178.9 1285 182.7 1288.3 186.1C1291.7 189.5 1294 194.3 1297.4 196.4C1300.7 198.4 1304.9 197.3 1308.6 198.2C1312.4 199 1316.5 200 1319.9 201.4C1323.3 202.8 1325.7 204.4 1328.9 206.6C1332.1 208.8 1335.7 212.7 1339.1 214.6C1342.5 216.5 1345.3 216.5 1349.2 218C1353.2 219.5 1357.9 221.6 1362.8 223.7C1367.7 225.8 1373.3 227.9 1378.6 230.5C1383.8 233.2 1389.1 236.6 1394.4 239.6C1399.6 242.7 1405.3 245.3 1410.1 248.8C1415 252.2 1419.2 256.7 1423.7 260.1C1428.2 263.6 1432.7 266.4 1437.2 269.3C1441.7 272.1 1446.2 275.3 1450.7 277.2C1455.3 279.1 1459.4 279.8 1464.3 280.6C1469.2 281.5 1475.6 282.1 1480.1 282.5C1484.6 282.9 1487.6 282.1 1491.3 282.9C1495.1 283.8 1499.2 286.2 1502.6 287.5C1506 288.8 1509.2 289 1511.6 290.9C1514.1 292.8 1515.8 296 1517.3 298.9C1518.8 301.7 1519.5 305.1 1520.7 308C1521.8 310.8 1522.2 314.8 1524 316C1525.9 317.1 1529.3 315 1531.9 314.8C1534.6 314.6 1537.6 313.9 1539.8 314.8C1542.1 315.8 1544.2 318.4 1545.5 320.5C1546.8 322.6 1545.5 326 1547.7 327.4C1550 328.7 1555.2 328.1 1559 328.5C1562.8 328.9 1566.5 329.1 1570.3 329.6C1574 330.2 1583.4 331.3 1581.6 331.9C1579.7 332.5 1564.3 331.9 1559 333C1553.7 334.2 1552.4 337 1550 338.7C1547.5 340.5 1547 342.7 1544.3 343.3C1541.7 343.9 1537.8 342.7 1534.2 342.2C1530.6 341.6 1526.3 339.9 1522.9 339.9C1519.5 339.9 1515 340.6 1513.9 342.2C1512.8 343.7 1514.3 346.7 1516.2 349C1518 351.3 1522.2 353.6 1525.2 355.8C1528.2 358.1 1532.5 358.9 1534.2 362.7C1535.9 366.5 1536.1 374.4 1535.3 378.6C1534.6 382.8 1531.2 384.7 1529.7 387.7C1528.2 390.8 1526.5 393.6 1526.3 396.8C1526.1 400.1 1527.1 403.7 1528.6 407.1C1530.1 410.5 1533.8 413.4 1535.3 417.3C1536.8 421.3 1537.4 427.2 1537.6 431C1537.8 434.8 1535.7 437.6 1536.5 440.1C1537.2 442.6 1539.9 443.5 1542 446C1544 448.4 1547 452 1548.7 455.1C1550.4 458.1 1552.1 461.3 1552.1 464.2C1552.1 467 1549.8 470.1 1548.7 472.1C1547.6 474.2 1544.6 475.7 1545.3 476.7C1546.1 477.7 1550 477.7 1553.2 478.3C1556.4 478.9 1560.4 479.2 1564.5 480.1C1568.6 481 1573.5 482.2 1578 483.5C1582.6 484.9 1587.1 486.4 1591.6 488.1C1596.1 489.8 1601.3 491.5 1605.1 493.8C1608.9 496.1 1611.5 499.1 1614.1 501.8C1616.8 504.4 1619.4 507.3 1620.9 509.7C1622.4 512.2 1623.5 514.1 1623.2 516.6C1622.8 519 1618.8 522.1 1618.6 524.5C1618.5 527 1622.4 529.3 1622 531.4C1621.6 533.5 1618.5 535.6 1616.4 537.1C1614.3 538.6 1610.9 538.8 1609.6 540.5C1608.3 542.2 1607.7 545.1 1608.5 547.3C1609.2 549.6 1611.9 552.1 1614.1 554.2C1616.4 556.3 1619.4 558 1622 559.9C1624.7 561.8 1627.9 563.3 1629.9 565.6C1632 567.8 1632.2 571.1 1634.4 573.5C1636.7 576 1640.1 578.1 1643.5 580.4C1646.8 582.6 1651 585.1 1654.7 587.2C1658.5 589.3 1663 591 1666 592.9C1669 594.8 1670.9 596.1 1672.8 598.6C1674.7 601.1 1677.7 605.8 1677.3 607.7C1676.9 609.6 1673.2 610.4 1670.5 610C1667.9 609.6 1664.3 605.8 1661.5 605.4C1658.7 605 1655.9 606.4 1653.6 607.7C1651.3 609 1648.5 611.5 1648 613.4C1647.4 615.3 1648.3 617.8 1650.2 619.1C1652.1 620.4 1657.2 619.5 1659.2 621.4C1661.3 623.3 1662.2 627.1 1662.6 630.5C1663 633.9 1662.6 638.5 1661.5 641.9C1660.4 645.3 1657.2 648.1 1655.9 651C1654.5 653.8 1653 656.3 1653.6 659C1654.2 661.6 1657.7 664.1 1659.2 666.9C1660.7 669.8 1662.1 673.2 1662.6 676C1663.2 678.9 1661.7 682.3 1662.6 684C1663.6 685.7 1665.8 685.3 1668.3 686.3C1670.7 687.2 1674.7 688.4 1677.3 689.7C1679.9 691 1682.4 692.8 1684.1 694.3C1685.7 695.8 1688.2 698.3 1687.4 698.8C1686.7 699.4 1682.4 698.1 1679.5 697.7C1676.7 697.3 1672.8 695.6 1670.5 696.5C1668.3 697.5 1668.3 702.6 1666 703.4C1663.8 704.1 1659.6 702.4 1657 701.1C1654.4 699.8 1652.3 696.2 1650.2 695.4C1648.2 694.6 1645.9 695 1644.6 696.5C1643.3 698.1 1643.6 702.2 1642.3 704.5C1641 706.8 1636.5 708.3 1636.7 710.2C1636.9 712.1 1642.1 713.6 1643.5 715.9C1644.8 718.2 1644 721.6 1644.6 723.9C1645.1 726.2 1647.4 727.3 1646.8 729.6C1646.3 731.9 1642.5 735.1 1641.2 737.6C1639.9 740 1640.6 742.5 1638.9 744.4C1637.3 746.3 1632.9 747 1631 748.9C1629.2 750.8 1627.3 753.5 1627.7 755.8C1628 758.1 1631.8 759.6 1633.3 762.6C1634.8 765.7 1636.1 770.2 1636.7 774C1637.3 777.8 1636.5 782.5 1636.7 785.4C1636.9 788.2 1638.6 789.8 1637.8 791.1C1637.1 792.4 1633.5 791.2 1632.2 793C1630.9 794.9 1631.8 799.3 1629.9 802.1C1628 805 1624.1 807.8 1620.9 810.1C1617.7 812.4 1614.7 813.9 1610.7 815.8C1606.8 817.7 1600.8 819 1597.2 821.5C1593.6 824 1592.5 827.8 1589.3 830.6C1586.1 833.5 1581.8 836.1 1578 838.6C1574.3 841.1 1569.4 842.8 1566.8 845.4C1564.1 848.1 1563.6 851.5 1562.3 854.5C1560.9 857.6 1561.1 861.7 1558.9 863.6C1556.6 865.5 1552.7 864.8 1548.7 865.9C1544.8 867.1 1538.4 868.8 1535.2 870.5C1532 872.2 1530.7 873.5 1529.5 876.2C1528.4 878.8 1529.7 883.6 1528.4 886.4C1527.1 889.3 1523.9 891 1521.7 893.3C1519.4 895.5 1517 897.6 1514.9 900.1C1512.8 902.6 1510.9 905.4 1509.2 908.1C1507.6 910.7 1506.4 912.8 1504.7 916C1503 919.3 1500.8 924 1499.1 927.4C1497.4 930.9 1495.7 933.9 1494.6 936.5C1493.5 939.2 1492.5 940.3 1492.3 943.4C1492.1 946.4 1492.9 951 1493.5 954.8C1494 958.6 1495 962.4 1495.7 966.2C1496.5 970 1496.8 974.1 1498 977.6C1499.1 981 1501 984.2 1502.5 986.7C1504 989.1 1506.4 990.1 1507 992.4C1507.6 994.6 1506.2 998.1 1505.9 1000.3C1505.5 1002.6 1506.1 1003.9 1504.7 1006C1503.4 1008.1 1499.7 1010.4 1498 1012.9C1496.3 1015.3 1495.7 1017.8 1494.6 1020.8C1493.5 1023.9 1492.3 1027.7 1491.2 1031.1C1490.1 1034.5 1489.1 1038.1 1487.8 1041.3C1486.5 1044.6 1485.4 1048.6 1483.3 1050.5C1481.2 1052.4 1477.5 1051.4 1475.4 1052.7C1473.3 1054.1 1471.8 1055.8 1470.9 1058.4C1470 1061.1 1470.5 1065.5 1469.8 1068.7C1469 1071.9 1466.8 1074.4 1466.4 1077.8C1466 1081.2 1466.8 1086 1467.5 1089.2C1468.3 1092.4 1470 1094.9 1470.9 1097.2C1471.8 1099.4 1473.7 1100.8 1473.2 1102.9C1472.6 1104.9 1469.4 1107.8 1467.5 1109.7C1465.6 1111.6 1464.1 1114.6 1461.9 1114.2C1459.6 1113.9 1456.8 1109.7 1454 1107.4C1451.2 1105.1 1448 1101 1445 1100.6C1442 1100.2 1439.1 1103.8 1435.9 1105.1C1432.7 1106.5 1428.8 1107.8 1425.8 1108.5C1422.8 1109.3 1419 1107.6 1417.9 1109.7C1416.8 1111.8 1419.8 1121.1 1419 1121.1C1418.3 1121.1 1415.5 1112.3 1413.4 1109.7C1411.3 1107 1408.7 1107.4 1406.6 1105.1C1404.6 1102.9 1402.9 1098.9 1401 1096C1399.1 1093.2 1397.8 1089.6 1395.3 1088C1392.9 1086.5 1389.1 1086 1386.3 1086.9C1383.5 1087.9 1379.9 1091.5 1378.4 1093.7C1376.9 1096 1376.5 1097.9 1377.3 1100.6C1378.1 1103.2 1381.8 1106.3 1382.9 1109.7C1384.1 1113.1 1383.5 1117.7 1384.1 1121.1C1384.6 1124.5 1386.5 1127.2 1386.3 1130.2C1386.1 1133.2 1383.7 1136.5 1382.9 1139.3C1382.1 1142.1 1382 1144.9 1381.5 1147.2C1381 1149.4 1380.9 1150.8 1380.1 1152.6C1379.4 1154.5 1378.3 1156.9 1376.8 1158.1C1375.2 1159.4 1372.7 1160.4 1370.7 1160.2C1368.7 1159.9 1365.9 1158.4 1364.6 1156.7C1363.2 1155 1362.2 1152 1362.6 1149.9C1362.9 1147.9 1364.9 1145.1 1366.6 1144.4C1368.3 1143.8 1371.8 1146.7 1372.7 1145.8C1373.6 1144.9 1372.6 1141.1 1372 1139C1371.5 1136.8 1370.8 1133.6 1369.3 1132.8C1367.9 1132 1365.4 1133.4 1363.2 1134.2C1361.1 1135 1358.5 1136 1356.5 1137.6C1354.4 1139.2 1352.3 1141.3 1351.1 1143.8C1349.8 1146.3 1349.9 1147.7 1349 1152.6C1348.1 1157.5 1348.4 1170.9 1345.7 1173.1C1342.9 1175.4 1335.8 1168.6 1332.8 1166.3C1329.8 1164 1329.2 1162.2 1327.4 1159.5C1325.6 1156.7 1324.2 1153.3 1322 1149.9C1319.7 1146.5 1316.8 1142.8 1313.9 1139C1310.9 1135.1 1306.5 1130.1 1304.4 1126.7C1302.3 1123.3 1301.6 1119.8 1301 1118.5"/>
<path class="bd" style="stroke-width:11.8" d="M1301 1118.5C1298.8 1115.2 1291 1102.5 1287.8 1098.8C1284.7 1095.1 1284.1 1096.1 1282.2 1096.5C1280.3 1096.9 1277.3 1098.4 1276.6 1101.1C1275.8 1103.7 1278.1 1109 1277.7 1112.5C1277.3 1115.9 1276.2 1119.3 1274.3 1121.6C1272.4 1123.9 1268.9 1124.6 1266.4 1126.1C1264 1127.7 1261.2 1128.4 1259.7 1130.7C1258.1 1133 1257.6 1135.6 1257.4 1139.8C1257.2 1144 1257.4 1149.7 1258.5 1155.8C1259.7 1161.8 1263.4 1170.9 1264.2 1176.3C1264.9 1181.6 1263.6 1183.8 1263 1187.6C1262.5 1191.4 1261.3 1195.6 1260.8 1199C1260.2 1202.5 1259.7 1204.7 1259.7 1208.1C1259.7 1211.6 1261.3 1216.1 1260.8 1219.5C1260.2 1223 1258.5 1226.8 1256.3 1228.7C1254 1230.5 1249.9 1229.8 1247.2 1230.9C1244.6 1232.1 1241.6 1234.7 1240.5 1235.5"/>
<path class="bd" style="stroke-width:12" d="M1219.1 1235.5C1219.6 1234.9 1220.7 1233.6 1222.4 1232.1C1224.1 1230.5 1228.1 1228.8 1229.2 1226.4C1230.3 1223.9 1228.8 1220.7 1229.2 1217.3C1229.6 1213.8 1230.7 1210 1231.5 1205.9C1232.2 1201.7 1233.7 1196.8 1233.7 1192.2C1233.7 1187.6 1231.6 1182.7 1231.5 1178.5C1231.3 1174.4 1232.8 1170.9 1232.6 1167.1C1232.4 1163.3 1230.3 1159.5 1230.3 1155.8C1230.3 1152 1232.6 1147.8 1232.6 1144.4C1232.6 1140.9 1230.9 1138.7 1230.3 1135.2C1229.8 1131.8 1229.4 1127.7 1229.2 1123.9C1229 1120.1 1230.9 1115.1 1229.2 1112.5C1227.5 1109.8 1222.4 1108.9 1219.1 1107.9C1215.7 1107 1210.8 1106 1208.9 1106.8C1207 1107.5 1209.1 1110.4 1207.8 1112.5C1206.5 1114.6 1202.5 1119.7 1201 1119.3C1199.5 1118.9 1199.9 1113.2 1198.8 1110.2C1197.6 1107.1 1195.6 1104.5 1194.2 1101.1C1192.9 1097.7 1192.2 1093.3 1190.9 1089.7C1189.5 1086.1 1187.5 1082.8 1186.3 1079.4C1185.2 1076 1186 1072.6 1184.1 1069.2C1182.2 1065.8 1178.1 1061.8 1175.1 1058.9C1172.1 1056.1 1169.4 1053.6 1166 1052.1C1162.7 1050.6 1158.9 1049.8 1154.8 1049.8C1150.6 1049.8 1145.2 1050.8 1141.2 1052.1C1137.3 1053.4 1133.9 1055.7 1131.1 1057.8C1128.3 1059.9 1125.3 1062.3 1124.3 1064.6C1123.4 1066.9 1124.5 1069.2 1125.4 1071.5C1126.4 1073.7 1129.4 1075.8 1130 1078.3C1130.5 1080.8 1130 1084.7 1128.8 1086.3C1127.7 1087.8 1125.6 1086.3 1123.2 1087.4C1120.7 1088.5 1117.2 1090.6 1114.2 1093.1C1111.2 1095.6 1107 1101.3 1105.1 1102.2C1103.3 1103.2 1105 1100.7 1102.9 1098.8C1100.8 1096.9 1094.6 1093.5 1092.7 1090.8C1090.9 1088.2 1092.4 1085.3 1091.6 1082.8C1090.9 1080.4 1089.2 1079.1 1088.2 1076C1087.3 1073 1086.7 1068.4 1086 1064.6C1085.2 1060.8 1085.4 1054.9 1083.7 1053.2C1082 1051.5 1078.6 1052.9 1075.8 1054.4C1073 1055.9 1070 1059.9 1066.8 1062.3C1063.6 1064.8 1059.8 1068.8 1056.7 1069.2C1053.5 1069.6 1049.7 1066.9 1047.6 1064.6C1045.6 1062.3 1046.3 1058.2 1044.2 1055.5C1042.2 1052.9 1038 1050.8 1035.2 1048.7C1032.4 1046.6 1028.1 1044.9 1027.3 1043C1026.6 1041.1 1028.3 1038.8 1030.7 1037.3C1033.2 1035.8 1039.5 1035.4 1042 1033.9C1044.4 1032.4 1046.3 1029.9 1045.4 1028.2C1044.4 1026.5 1038.8 1026.3 1036.4 1023.6C1033.9 1021 1032.8 1015.1 1030.7 1012.2C1028.6 1009.4 1026.2 1008.6 1023.9 1006.5C1021.7 1004.4 1020 1000.1 1017.2 999.7C1014.3 999.3 1010.1 1002.9 1006.9 1004.3C1003.7 1005.6 1000.9 1007.5 997.9 1007.7C994.8 1007.9 992.2 1005 988.8 1005.4C985.4 1005.8 980.4 1010.3 977.6 1009.9C974.7 1009.6 974.2 1005.4 971.9 1003.1C969.7 1000.8 967 998.2 964 996.3C961 994.4 957.3 991.9 953.9 991.7C950.5 991.5 947.7 994.4 943.7 995.1C939.8 995.9 933.9 995.3 930.2 996.3C926.4 997.2 923.8 998.9 921.2 1000.8C918.5 1002.7 915.5 1005 914.4 1007.7C913.3 1010.3 913.1 1014.1 914.4 1016.8C915.7 1019.4 921.9 1020.6 922.3 1023.6C922.7 1026.7 919.3 1033.5 916.7 1035C914 1036.5 908.8 1032.2 906.5 1032.7C904.2 1033.3 903.7 1035.4 903.1 1038.4C902.6 1041.5 904.6 1048.1 903.1 1051C901.6 1053.8 897.3 1054 894.1 1055.5C890.9 1057 887.3 1060.6 883.9 1060.1C880.6 1059.5 876.1 1051.7 873.8 1052.1C871.5 1052.5 872.3 1059.9 870.4 1062.3C868.5 1064.8 866.1 1066.3 862.5 1066.9C859 1067.5 853.5 1066 849 1065.8C844.5 1065.6 839.6 1065.2 835.5 1065.8C831.3 1066.3 827.4 1067.5 824.2 1069.2C821 1070.9 817.8 1073.5 816.3 1076C814.8 1078.5 815.7 1080.6 815.2 1084C814.6 1087.4 814.8 1094.6 812.9 1096.5C811 1098.4 807.3 1095.6 803.9 1095.4C800.5 1095.2 796 1094.2 792.6 1095.4C789.2 1096.5 787 1100.3 783.6 1102.2C780.2 1104.1 776.1 1105.1 772.3 1106.8C768.5 1108.5 764.8 1110.2 761 1112.5C757.3 1114.7 753.5 1118.5 749.7 1120.4C746 1122.3 741.7 1122 738.5 1123.9C735.3 1125.8 732.8 1129 730.6 1131.8C728.3 1134.7 726.4 1140.6 724.9 1140.9C723.4 1141.3 722.7 1136.6 721.6 1134.1C720.4 1131.6 718.9 1128.8 718.2 1126.1C717.4 1123.5 718.2 1120.4 717 1118.2C715.9 1115.9 713.7 1114.4 711.4 1112.5C709.1 1110.6 705.9 1107.1 703.5 1106.8C701.1 1106.4 699.2 1109.8 696.7 1110.2C694.3 1110.6 691.5 1109.4 688.8 1109C686.2 1108.7 681.7 1110.2 681 1107.9C680.2 1105.6 683.8 1098.6 684.3 1095.4C684.9 1092.2 685.5 1090.6 684.3 1088.5C683.2 1086.5 679.8 1084.7 677.6 1082.8C675.3 1081 673.2 1078.5 670.8 1077.2C668.4 1075.8 666.2 1073.9 663.3 1074.9C660.4 1075.8 655.8 1080 653.2 1082.8C650.5 1085.7 649.8 1090.6 647.5 1092C645.3 1093.3 642.1 1092.2 639.6 1090.8C637.2 1089.5 635.5 1086.3 632.9 1084C630.2 1081.7 626.8 1079.1 623.8 1077.2C620.8 1075.3 618.2 1073 614.8 1072.6C611.4 1072.2 607.3 1074.7 603.5 1074.9C599.8 1075.1 595.6 1075.3 592.3 1073.7C588.9 1072.2 586.6 1067.3 583.2 1065.8C579.8 1064.2 575.1 1064.2 572 1064.6C568.8 1065 567.1 1068 564.1 1068C561.1 1068 556.9 1066.1 553.9 1064.6C550.9 1063.1 548.5 1059.1 546 1058.9C543.6 1058.7 542.1 1062.2 539.2 1063.5C536.4 1064.8 531.9 1064.8 529.1 1066.9C526.3 1069 524.1 1073.2 522.3 1076C520.6 1078.8 520.1 1081.3 518.7 1083.7C517.4 1086 515.9 1088.7 514.2 1090C512.6 1091.4 510.6 1090.4 508.8 1091.9C507 1093.4 505.3 1095.8 503.4 1099.1C501.4 1102.5 498.7 1108.2 497 1111.9C495.4 1115.5 493.6 1118.7 493.4 1121C493.3 1123.2 495.1 1124 496.1 1125.5C497.2 1127 499.4 1128.5 499.7 1130C500 1131.6 499 1133.2 497.9 1134.6C496.9 1136 495.1 1137.2 493.4 1138.2C491.7 1139.3 489.6 1139.9 488 1141C486.3 1142 485 1144.6 483.5 1144.6C481.9 1144.6 479.7 1142.3 478.9 1141C478.2 1139.6 479.5 1137.9 478.9 1136.4C478.3 1134.9 476.8 1133.2 475.3 1131.9C473.8 1130.5 471.1 1129.7 469.9 1128.2C468.7 1126.7 468.7 1124.9 468.1 1122.8C467.5 1120.7 466.3 1117.6 466.3 1115.5C466.3 1113.4 467.2 1112.2 468.1 1110C469 1107.9 470.9 1105.2 471.7 1102.8C472.4 1100.4 472.1 1097.2 472.6 1095.5C473.1 1093.8 474.3 1094 474.4 1092.8C474.5 1091.6 473.2 1089.9 473.1 1088.2C472.9 1086.6 474 1084.6 473.5 1082.8C473 1081 471.5 1078.7 469.9 1077.3C468.2 1076 466 1075.5 463.6 1074.6C461.1 1073.7 458 1071.8 455.4 1071.9C452.8 1071.9 450.7 1073.6 447.9 1074.9C445.1 1076.1 442.3 1078.3 438.9 1079.4C435.5 1080.6 430.8 1081.1 427.6 1081.7C424.4 1082.3 422 1081.5 419.7 1082.8C417.4 1084.2 416.9 1089.1 414.1 1089.7C411.2 1090.3 406 1087.2 402.8 1086.3C399.6 1085.3 397.3 1082.5 394.9 1084C392.4 1085.5 390.4 1093.7 388.1 1095.4C385.9 1097.1 383.8 1095 381.4 1094.2C378.9 1093.5 376.3 1091.2 373.5 1090.8C370.6 1090.4 367.4 1091.8 364.4 1092C361.4 1092.2 358.4 1091.6 355.4 1092C352.4 1092.3 349 1094.2 346.4 1094.2C343.8 1094.2 341.9 1093.7 339.6 1092C337.4 1090.3 335.5 1086.1 332.9 1084C330.2 1081.9 326.8 1081 323.8 1079.4C320.8 1077.9 317.8 1076.4 314.8 1074.9C311.8 1073.4 308.6 1070.7 305.8 1070.3C303 1069.9 299.8 1070.5 297.9 1072.6C296 1074.7 296.2 1080.4 294.5 1082.8C292.8 1085.3 290.4 1087.2 287.8 1087.4C285.1 1087.6 281.6 1085.1 278.7 1084C275.9 1082.8 271.8 1082.7 270.8 1080.6C269.9 1078.5 273.5 1073.7 273.1 1071.5C272.7 1069.2 270.6 1066.7 268.6 1066.9C266.5 1067.1 261.4 1069.9 260.7 1072.6C259.9 1075.3 264.4 1080.2 264.1 1082.8C263.7 1085.5 260.5 1088.2 258.4 1088.5C256.4 1088.9 253.4 1087.2 251.7 1085.1C250 1083 249.8 1079.2 248.3 1076C246.8 1072.8 244.5 1068.8 242.6 1065.8C240.8 1062.7 238.3 1060.8 237 1057.8C235.7 1054.8 235.9 1049.1 234.7 1047.5C233.6 1046 231.9 1046.8 230.2 1048.7C228.5 1050.6 226.1 1057.8 224.6 1058.9C223.1 1060.1 223.1 1056.7 221.2 1055.5C219.3 1054.4 216.3 1052.3 213.3 1052.1C210.3 1051.9 206.4 1054.4 203.2 1054.4C200 1054.4 196.2 1054.2 194.1 1052.1C192.1 1050 191 1045.1 190.8 1041.8C190.6 1038.6 193 1035.4 193 1032.7C193 1030.1 192 1027.2 190.8 1025.9C189.6 1024.6 186.6 1024.9 185.8 1024.8"/>
<path class="bd" style="stroke-width:14.5" d="M972.6 120.7C974.5 120.1 979.9 118.1 983.9 117.1C987.8 116 995.9 113.5 996.3 114.3C996.6 115.2 989.1 120 986.1 122.3C983.1 124.6 977.5 126.8 978.2 128C979 129.3 988.6 129.5 990.6 129.8"/>
<path class="bd" style="stroke-width:14" d="M1077.5 122.3C1078.8 124 1082.7 128.7 1085.4 132.6C1088 136.5 1091.9 143.6 1093.3 145.8"/>
<path class="bd" style="stroke-width:16.5" d="M1550 328.9C1552.2 329.2 1558.4 329.9 1563.5 330.5C1568.6 331.2 1577.8 332.6 1580.7 333"/>
<path class="bd" style="stroke-width:14" d="M1547.7 336.5C1548.1 337.4 1549.6 341.2 1550 342.2"/>
<path class="bd" style="stroke-width:14.5" d="M1666 596.3C1667.3 597.3 1672 600 1673.9 602C1675.8 604 1676.7 607.1 1677.3 608.2"/>
<path class="bd" style="stroke-width:13.5" d="M1670.5 690.9C1672.2 691.4 1677.7 692.9 1680.7 694.3C1683.6 695.7 1686.9 698.4 1688.1 699.3"/>
<path class="bd" style="stroke-width:14" d="M191.2 1025.4C191.6 1026.7 193.5 1030 193.5 1032.7C193.5 1035.5 191.6 1040.3 191.2 1041.8"/>
<path class="bd" style="stroke-width:15" d="M1417.9 1109.7C1418.2 1111.5 1419.4 1118.8 1419.7 1120.6"/>
<path class="bd" style="stroke-width:15" d="M1418.7 1113.6C1419.1 1115 1420.9 1120.6 1421.4 1122"/>
<circle cx="988.4" cy="120.7" r="9.5" fill="#16120f"/>
<circle cx="994" cy="115.5" r="8" fill="#16120f"/>
<circle cx="1083.1" cy="128" r="8" fill="#16120f"/>
<circle cx="1088.7" cy="138.3" r="7.5" fill="#16120f"/>
<circle cx="1554.5" cy="333.5" r="8" fill="#16120f"/>
<circle cx="1675" cy="605.4" r="8" fill="#16120f"/>
<circle cx="1420.2" cy="1115.4" r="8.5" fill="#16120f"/>
<circle cx="1420.9" cy="1119.3" r="8" fill="#16120f"/>
</g>
<ellipse class="D" cx="1108.3" cy="606.3" rx="19.2" ry="20.4"/>
<ellipse class="D" cx="1301.1" cy="610.5" rx="38.1" ry="40"/>
<ellipse class="D" cx="1182.9" cy="672.7" rx="38.1" ry="40"/>
<ellipse class="D" cx="1386.4" cy="677.2" rx="38.1" ry="40"/>
<ellipse class="D" cx="646.2" cy="724.7" rx="19.2" ry="20.4"/>
<ellipse class="D" cx="851.8" cy="763" rx="30.4" ry="32.2"/>
<ellipse class="D" cx="456.8" cy="839.2" rx="19.2" ry="20.4"/>
<ellipse class="D" cx="475.6" cy="978.1" rx="30.4" ry="32.2"/>
<ellipse class="D" cx="530.9" cy="1005" rx="19.2" ry="20.4"/>
<ellipse class="D" cx="491.2" cy="1102.2" rx="38.1" ry="40"/>
<ellipse class="D" cx="1329.5" cy="785" rx="38.1" ry="40"/>
<ellipse class="D" cx="1499.8" cy="761.5" rx="38.1" ry="40"/>
<ellipse class="D" cx="991" cy="800.2" rx="19.2" ry="20.4"/>
<ellipse class="D" cx="1111.5" cy="822.7" rx="38.1" ry="40"/>
<ellipse class="D" cx="1509.2" cy="835.1" rx="19.2" ry="20.4"/>
<ellipse class="D" cx="1004.3" cy="927.4" rx="30.4" ry="32.2"/>
<ellipse class="D" cx="1162.2" cy="943.8" rx="19.2" ry="20.4"/>
<ellipse class="D" cx="1259.9" cy="916.9" rx="38.1" ry="40"/>
<ellipse class="D" cx="1443.8" cy="998.5" rx="30.4" ry="32.2"/>
<ellipse class="D" cx="1134.7" cy="1027.1" rx="38.1" ry="40"/>
<ellipse class="D" cx="1445.3" cy="1127.2" rx="30.4" ry="32.2"/>
<ellipse class="D" cx="1273.7" cy="1148" rx="19.2" ry="20.4"/>
<ellipse class="D" cx="1345.8" cy="1172.4" rx="30.4" ry="32.2"/>
<ellipse class="R" cx="1207.6" cy="198.1" rx="38.1" ry="40"/>
<ellipse class="R" cx="1296.5" cy="229.4" rx="19.2" ry="20.4"/>
<ellipse class="R" cx="1348.1" cy="249.2" rx="30.4" ry="32.2"/>
<ellipse class="R" cx="973.7" cy="275.6" rx="38.1" ry="40"/>
<ellipse class="R" cx="1127.1" cy="314.8" rx="30.4" ry="32.2"/>
<ellipse class="R" cx="1453" cy="314.1" rx="38.1" ry="40"/>
<ellipse class="R" cx="937.6" cy="392.8" rx="30.4" ry="32.2"/>
<ellipse class="R" cx="1053.8" cy="391.9" rx="30.4" ry="32.2"/>
<ellipse class="R" cx="1183" cy="402.5" rx="38.1" ry="40"/>
<ellipse class="R" cx="1192" cy="515.3" rx="30.4" ry="32.2"/>
<ellipse class="R" cx="1451.3" cy="530.7" rx="30.4" ry="32.2"/>
<ellipse class="R" cx="1551.4" cy="508.6" rx="38.1" ry="40"/>
<ellipse class="R" cx="1005.1" cy="579.4" rx="30.4" ry="32.2"/>
<ellipse class="R" cx="1488.5" cy="590.1" rx="30.4" ry="32.2"/>
<ellipse class="R" cx="1442.2" cy="636.9" rx="30.4" ry="32.2"/>
<ellipse class="R" cx="1100" cy="670.1" rx="19.2" ry="20.4"/>
<ellipse class="R" cx="968.2" cy="679.9" rx="19.2" ry="20.4"/>
<ellipse class="R" cx="1524.4" cy="687.8" rx="19.2" ry="20.4"/>
<ellipse class="R" cx="1602.9" cy="700.6" rx="19.2" ry="20.4"/>
<ellipse class="R" cx="816.9" cy="202.5" rx="19.2" ry="20.4"/>
<ellipse class="R" cx="563.2" cy="803.8" rx="38.1" ry="40"/>
<ellipse class="R" cx="720.5" cy="795.8" rx="19.2" ry="20.4"/>
<ellipse class="R" cx="646.1" cy="877.6" rx="38.1" ry="40"/>
<ellipse class="R" cx="813.6" cy="861.7" rx="38.1" ry="40"/>
<ellipse class="R" cx="648.3" cy="943.4" rx="19.2" ry="20.4"/>
<ellipse class="R" cx="574.8" cy="963.3" rx="19.2" ry="20.4"/>
<ellipse class="R" cx="697.5" cy="978.1" rx="19.2" ry="20.4"/>
<ellipse class="R" cx="377.5" cy="992" rx="19.2" ry="20.4"/>
<ellipse class="R" cx="337.6" cy="1028.8" rx="19.2" ry="20.4"/>
<ellipse class="R" cx="711.4" cy="1081.7" rx="19.2" ry="20.4"/>
<ellipse class="R" cx="1354" cy="730.3" rx="38.1" ry="40"/>
<ellipse class="R" cx="1058.5" cy="737.1" rx="19.2" ry="20.4"/>
<ellipse class="R" cx="1349.7" cy="916.6" rx="19.2" ry="20.4"/>
<ellipse class="R" cx="1480" cy="912.6" rx="19.2" ry="20.4"/>
<ellipse class="R" cx="1351.8" cy="994.4" rx="19.2" ry="20.4"/>
<ellipse class="R" cx="1305.7" cy="1094.1" rx="30.4" ry="32.2"/>
<rect class="fr" x="187.8" y="106.1" width="1521.4" height="1128.2"/>
<line class="tk" x1="168.2" x2="185" y1="104.7" y2="104.7"/>
<text class="ax" transform="translate(152.1,122.1) scale(0.962,1)" text-anchor="end">40°N</text>
<line class="tk" x1="168.2" x2="185" y1="266.3" y2="266.3"/>
<text class="ax" transform="translate(152.1,283.7) scale(0.962,1)" text-anchor="end">38°N</text>
<line class="tk" x1="168.2" x2="185" y1="427.8" y2="427.8"/>
<text class="ax" transform="translate(152.1,445.2) scale(0.962,1)" text-anchor="end">36°N</text>
<line class="tk" x1="168.2" x2="185" y1="589.4" y2="589.4"/>
<text class="ax" transform="translate(152.1,606.8) scale(0.962,1)" text-anchor="end">34°N</text>
<line class="tk" x1="168.2" x2="185" y1="750.9" y2="750.9"/>
<text class="ax" transform="translate(152.1,768.3) scale(0.962,1)" text-anchor="end">32°N</text>
<line class="tk" x1="168.2" x2="185" y1="912.5" y2="912.5"/>
<text class="ax" transform="translate(152.1,929.9) scale(0.962,1)" text-anchor="end">30°N</text>
<line class="tk" x1="168.2" x2="185" y1="1074.1" y2="1074.1"/>
<text class="ax" transform="translate(152.1,1091.5) scale(0.962,1)" text-anchor="end">28°N</text>
<line class="tk" x1="168.2" x2="185" y1="1235.6" y2="1235.6"/>
<text class="ax" transform="translate(152.1,1253) scale(0.962,1)" text-anchor="end">26°N</text>
<line class="tk" x1="186.4" x2="186.4" y1="1237" y2="1254"/>
<text class="ax" transform="translate(130.1,1317.6) scale(0.943,1)">85°E</text>
<line class="tk" x1="570.3" x2="570.3" y1="1237" y2="1254"/>
<text class="ax" transform="translate(505.6,1317.6) scale(0.943,1)">90°E</text>
<line class="tk" x1="953.2" x2="953.2" y1="1237" y2="1254"/>
<text class="ax" transform="translate(884.5,1317.6) scale(0.943,1)">95°E</text>
<line class="tk" x1="1329.6" x2="1329.6" y1="1237" y2="1254"/>
<text class="ax" transform="translate(1263.6,1317.6) scale(0.943,1)">100°E</text>
<line class="tk" x1="1710.6" x2="1710.6" y1="1237" y2="1254"/>
<text class="ax" transform="translate(1630,1317.6) scale(0.943,1)">105°E</text>
<text class="ax" x="948.5" y="60.1" text-anchor="middle">(c)</text>
<ellipse class="D" cx="266.8" cy="370.6" rx="38.1" ry="40"/>
<text class="lg"><tspan class="it" x="330.7" y="393">x</tspan><tspan class="lt" x="353.9" y="391.5" textLength="32.712" lengthAdjust="spacingAndGlyphs">&lt;</tspan><tspan x="386.2" y="393">0.5</tspan></text>
<ellipse class="D" cx="265.7" cy="454.9" rx="30.4" ry="32.2"/>
<text class="lg"><tspan x="331.5" y="473">0.5</tspan><tspan class="sy" x="401.5" y="466.6" textLength="46.7604" lengthAdjust="spacingAndGlyphs">⩽</tspan><tspan class="it" x="453.1" y="473">x</tspan><tspan class="lt" x="477.1" y="471.5" textLength="32.712" lengthAdjust="spacingAndGlyphs">&lt;</tspan><tspan x="508.4" y="473">0.7</tspan></text>
<ellipse class="D" cx="265.4" cy="535.9" rx="19.2" ry="20.4"/>
<text class="lg"><tspan x="331.6" y="552.9">0.7</tspan><tspan class="sy" x="400.8" y="546.5" textLength="46.7604" lengthAdjust="spacingAndGlyphs">⩽</tspan><tspan class="it" x="452.6" y="552.9">x</tspan><tspan class="lt" x="475.6" y="551.4" textLength="32.712" lengthAdjust="spacingAndGlyphs">&lt;</tspan><tspan x="509.8" y="552.9">1</tspan></text>
<ellipse class="R" cx="265.7" cy="614.3" rx="19.2" ry="20.4"/>
<text class="lg"><tspan x="333.6" y="633">1</tspan><tspan class="sy" x="360.2" y="626.6" textLength="46.7604" lengthAdjust="spacingAndGlyphs">⩽</tspan><tspan class="it" x="412" y="633">x</tspan><tspan class="lt" x="435" y="631.5" textLength="32.712" lengthAdjust="spacingAndGlyphs">&lt;</tspan><tspan x="469.2" y="633">1.5</tspan></text>
<ellipse class="R" cx="266.1" cy="688.8" rx="30.4" ry="32.2"/>
<text class="lg"><tspan x="333.6" y="712.9">1.5</tspan><tspan class="sy" x="400.9" y="706.5" textLength="46.7604" lengthAdjust="spacingAndGlyphs">⩽</tspan><tspan class="it" x="452.7" y="712.9">x</tspan><tspan class="lt" x="475.6" y="711.4" textLength="32.712" lengthAdjust="spacingAndGlyphs">&lt;</tspan><tspan x="506.2" y="712.9">2</tspan></text>
<ellipse class="R" cx="264.3" cy="774.5" rx="38.1" ry="40"/>
<text class="lg"><tspan class="it" x="331.5" y="792">x</tspan><tspan class="sy" x="359.3" y="785.6" textLength="46.7604" lengthAdjust="spacingAndGlyphs">⩾</tspan><tspan x="408.9" y="792">2</tspan></text>
</g>
<g transform="translate(1826,1396)">
<clipPath id="cpd"><rect x="188" y="106" width="1521" height="1128"/></clipPath>
<g clip-path="url(#cpd)">
<path class="bd" d="M186.8 332.6C187.6 332.1 188.3 330.9 191.8 329.2C195.3 327.5 202.7 324.3 207.6 322.4C212.5 320.5 216.7 319.6 221.2 317.9C225.7 316.2 230.2 313.9 234.8 312.2C239.3 310.5 244.2 309.3 248.3 307.6C252.5 305.9 256.6 304 259.6 302C262.6 299.9 264.3 297.8 266.4 295.1C268.5 292.5 270.2 289.5 272.1 286C273.9 282.6 275.6 277.5 277.7 274.7C279.8 271.8 281.9 270.9 284.5 269C287.1 267.1 290.5 264.8 293.5 263.3C296.6 261.8 299.6 261.2 302.6 259.9C305.6 258.6 308.6 256.9 311.6 255.4C314.7 253.8 318 252.1 320.7 250.8C323.3 249.5 324.5 247.8 327.5 247.4C330.5 247 335.4 248.5 338.8 248.5C342.2 248.5 344.4 248 347.8 247.4C351.2 246.8 355.4 245.7 359.1 245.1C362.9 244.6 367.4 244.4 370.4 244C373.5 243.6 375 244.2 377.2 242.9C379.5 241.5 381.7 238.3 384 236C386.3 233.8 388.2 231.3 390.8 229.2C393.4 227.1 397 225.4 399.8 223.5C402.7 221.6 405.5 218.2 407.7 217.9C410 217.5 411.7 220.5 413.4 221.3C415.1 222 416 222.8 417.9 222.4C419.8 222 422.4 220.3 424.7 219C427 217.7 430 216.9 431.5 214.4C433 212 431.5 206.9 433.8 204.2C436 201.6 441.7 200.2 445.1 198.5C448.5 196.8 451.5 195.5 454.1 194C456.7 192.5 458.3 190.7 460.9 189.4C463.5 188.2 466.9 186.7 469.9 186.5C473 186.3 476.2 188 479 188.3C481.8 188.6 484.4 187.7 486.9 188.3C489.3 188.9 491.2 191.7 493.7 191.7C496.1 191.7 498.8 189.3 501.6 188.3C504.4 187.3 507.6 185.6 510.6 185.6C513.7 185.5 516.7 187.5 519.7 187.8C522.7 188.2 525.5 188 528.7 187.8C531.9 187.7 535.9 188.4 538.9 187.2C541.9 185.9 544.4 182 546.8 180.3C549.3 178.7 550.6 177.6 553.6 177.4C556.6 177.2 561.5 179.1 564.9 179.2C568.3 179.3 571.5 179 574 178.1C576.4 177.1 578.3 175.3 579.6 173.5C580.9 171.7 580.2 168.8 581.9 167.4C583.6 166 587 165.6 589.8 165.1C592.6 164.6 595.8 164.1 598.8 164.4C601.9 164.8 604.1 166.7 607.9 167.4C611.7 168 617.3 167.5 621.5 168.3C625.6 169.1 629 171.9 632.8 172.4C636.5 172.9 640.1 172 644.1 171.3C648 170.5 652.7 168 656.5 167.8C660.3 167.7 663.5 169.7 666.7 170.1C669.9 170.5 674.7 170.1 675.7 170.1C676.7 170.1 670.9 170.5 672.6 170.2C674.4 169.8 681.8 168.8 686.2 167.9C690.5 166.9 695.2 164.7 698.6 164.5C702 164.3 703.3 165.9 706.5 166.8C709.7 167.6 713.7 169 717.8 169.5C722 169.9 727.3 168.7 731.4 169.5C735.6 170.2 738.9 173.3 742.7 174C746.5 174.8 750.3 174.5 754 174C757.8 173.6 762.9 172.9 765.3 171.3C767.8 169.7 766.8 166.2 768.7 164.5C770.6 162.8 773.4 161.9 776.6 161.1C779.8 160.2 783.8 159.9 787.9 159.5C792.1 159 797.4 159.2 801.5 158.3C805.7 157.5 809.4 155.3 812.8 154.3C816.2 153.2 820 153.5 821.9 152C823.8 150.5 822.2 146.9 824.1 145.2C826 143.5 829.8 142.1 833.2 141.8C836.6 141.4 841.3 142.1 844.5 142.9C847.7 143.6 850.1 145.1 852.4 146.3C854.7 147.6 855.2 149.6 858.1 150.4C860.9 151.2 865.2 151.2 869.4 151.3C873.5 151.4 878.4 151.5 882.9 150.8C887.4 150.2 892 148.5 896.5 147.4C901 146.4 905.2 145.5 910.1 144.7C915 144 921 142.7 925.9 142.9C930.8 143.1 936.1 145.5 939.5 145.8C942.9 146.2 944.7 146.8 946.2 145.2C947.8 143.5 947.4 138.5 948.5 136.1C949.6 133.6 950 132.5 953 130.4C956 128.3 962.8 125.3 966.6 123.6C970.4 121.9 972.6 121.4 975.6 120.2C978.7 118.9 980.7 117.3 984.7 116.3C988.6 115.3 998.6 113 999.4 114C1000.1 115 992 120.1 989.2 122.4C986.4 124.8 981.7 126.9 982.4 128.1C983.2 129.4 990.3 129.4 993.7 129.9C997.1 130.5 999.8 130.5 1002.8 131.5C1005.8 132.5 1008.8 135.3 1011.8 136.1C1014.8 136.8 1017.9 136.6 1020.9 136.1C1023.9 135.5 1027.7 133.4 1029.9 132.7C1032.2 131.9 1032.6 132.3 1034.4 131.5C1036.3 130.8 1038.2 128.8 1041.2 128.1C1044.2 127.5 1048.8 127.1 1052.5 127.7C1056.3 128.2 1060.1 130.1 1063.8 131.5C1067.6 132.9 1071.4 134.6 1075.1 136.1C1078.9 137.6 1082.9 138.9 1086.5 140.6C1090 142.3 1095.5 146.9 1096.6 146.3C1097.8 145.7 1094.7 139.9 1093.2 137.2C1091.7 134.6 1089.5 133 1087.6 130.4C1085.7 127.7 1081 122.2 1081.9 121.3C1082.9 120.3 1089.8 124.3 1093.2 124.7C1096.6 125.1 1099.3 123.4 1102.3 123.6C1105.3 123.8 1108.5 125.1 1111.3 125.8C1114.2 126.6 1117.5 129.1 1119.2 128.1C1120.9 127.2 1120.2 121.9 1121.5 120.2C1122.8 118.5 1124.3 117.9 1127.1 117.9C1130 117.9 1134.7 118.8 1138.4 120.2C1142.2 121.5 1145.6 124.5 1149.8 125.8C1153.9 127.2 1158.8 127.2 1163.3 128.1C1167.8 129.1 1172.4 130.2 1176.9 131.5C1181.4 132.9 1185.9 134.2 1190.5 136.1C1195 138 1199.5 140.8 1204 142.9C1208.5 145 1213.1 147.1 1217.6 148.6C1222.1 150.1 1226.6 150.7 1231.2 152C1235.7 153.3 1240.2 155 1244.7 156.5C1249.3 158 1254.2 159.2 1258.3 161.1C1262.4 163 1265.8 165.4 1269.6 167.9C1273.4 170.4 1277.1 172.8 1280.9 175.9C1284.7 178.9 1288.8 182.7 1292.2 186.1C1295.6 189.5 1297.9 194.3 1301.3 196.3C1304.7 198.3 1308.8 197.3 1312.6 198.1C1316.3 199 1320.5 199.9 1323.9 201.3C1327.3 202.7 1329.7 204.3 1332.9 206.5C1336.1 208.7 1339.7 212.6 1343.1 214.5C1346.5 216.4 1349.3 216.4 1353.3 217.9C1357.2 219.4 1361.9 221.5 1366.8 223.6C1371.7 225.7 1377.4 227.8 1382.7 230.4C1388 233.1 1393.2 236.5 1398.5 239.5C1403.8 242.5 1409.4 245.2 1414.3 248.6C1419.2 252 1423.4 256.5 1427.9 260C1432.4 263.4 1437 266.2 1441.5 269.1C1446 271.9 1450.5 275.1 1455 277C1459.6 278.9 1463.7 279.5 1468.6 280.4C1473.5 281.3 1479.9 281.9 1484.4 282.2C1489 282.6 1492 281.9 1495.7 282.7C1499.5 283.5 1503.7 285.9 1507.1 287.2C1510.4 288.6 1513.7 288.8 1516.1 290.6C1518.6 292.5 1520.2 295.8 1521.8 298.6C1523.3 301.4 1524 304.9 1525.1 307.7C1526.3 310.5 1526.7 314.5 1528.5 315.7C1530.4 316.8 1533.8 314.7 1536.5 314.5C1539.1 314.3 1542.1 313.6 1544.4 314.5C1546.6 315.5 1548.7 318.1 1550 320.2C1551.3 322.3 1550 325.7 1552.3 327C1554.5 328.3 1559.8 327.8 1563.6 328.2C1567.4 328.5 1571.1 328.7 1574.9 329.3C1578.7 329.9 1588.1 331 1586.2 331.6C1584.3 332.1 1568.9 331.6 1563.6 332.7C1558.3 333.8 1557 336.7 1554.5 338.4C1552.1 340.1 1551.5 342.4 1548.9 342.9C1546.3 343.5 1542.3 342.4 1538.7 341.8C1535.1 341.2 1530.8 339.5 1527.4 339.5C1524 339.5 1519.5 340.3 1518.4 341.8C1517.2 343.3 1518.7 346.3 1520.6 348.6C1522.5 350.9 1526.7 353.2 1529.7 355.4C1532.7 357.7 1537 358.5 1538.7 362.3C1540.4 366 1540.6 374 1539.8 378.2C1539.1 382.3 1535.7 384.2 1534.2 387.3C1532.7 390.3 1531 393.1 1530.8 396.4C1530.6 399.6 1531.6 403.2 1533.1 406.6C1534.6 410 1538.3 412.8 1539.8 416.8C1541.4 420.8 1541.9 426.7 1542.1 430.4C1542.3 434.2 1540.2 437.1 1541 439.5C1541.7 442 1544.4 442.9 1546.5 445.4C1548.5 447.8 1551.6 451.4 1553.3 454.5C1555 457.5 1556.7 460.7 1556.7 463.5C1556.7 466.4 1554.4 469.4 1553.3 471.5C1552.1 473.6 1549.1 475 1549.9 476C1550.6 477.1 1554.6 477.1 1557.8 477.6C1561 478.2 1565 478.6 1569.1 479.5C1573.3 480.3 1578.2 481.5 1582.7 482.9C1587.2 484.2 1591.7 485.7 1596.2 487.4C1600.8 489.1 1606 490.8 1609.8 493.1C1613.6 495.4 1616.2 498.4 1618.9 501.1C1621.5 503.7 1624.1 506.5 1625.6 509C1627.2 511.5 1628.3 513.4 1627.9 515.8C1627.5 518.3 1623.6 521.3 1623.4 523.8C1623.2 526.2 1627.2 528.5 1626.8 530.6C1626.4 532.7 1623.2 534.8 1621.1 536.3C1619 537.8 1615.7 538 1614.3 539.7C1613 541.4 1612.5 544.2 1613.2 546.5C1614 548.8 1616.6 551.2 1618.9 553.3C1621.1 555.4 1624.1 557.1 1626.8 559C1629.4 560.9 1632.6 562.4 1634.7 564.7C1636.8 567 1637 570.2 1639.2 572.7C1641.5 575.1 1644.9 577.2 1648.3 579.5C1651.7 581.7 1655.8 584.2 1659.6 586.3C1663.3 588.4 1667.9 590.1 1670.9 592C1673.9 593.9 1675.8 595.2 1677.7 597.7C1679.5 600.1 1682.6 604.9 1682.2 606.8C1681.8 608.6 1678 609.4 1675.4 609C1672.8 608.6 1669.2 604.9 1666.4 604.5C1663.5 604.1 1660.7 605.4 1658.4 606.8C1656.2 608.1 1653.3 610.5 1652.8 612.4C1652.2 614.3 1653.2 616.8 1655 618.1C1656.9 619.4 1662 618.5 1664.1 620.4C1666.2 622.3 1667.1 626.1 1667.5 629.5C1667.9 632.9 1667.5 637.4 1666.4 640.9C1665.2 644.3 1662 647.1 1660.7 649.9C1659.4 652.8 1657.9 655.2 1658.4 657.9C1659 660.6 1662.6 663 1664.1 665.9C1665.6 668.7 1666.9 672.1 1667.5 674.9C1668 677.8 1666.5 681.2 1667.5 682.9C1668.4 684.6 1670.7 684.2 1673.1 685.2C1675.6 686.1 1679.5 687.3 1682.2 688.6C1684.8 689.9 1687.3 691.6 1689 693.1C1690.7 694.6 1693.1 697.1 1692.4 697.7C1691.6 698.2 1687.3 696.9 1684.4 696.5C1681.6 696.2 1677.7 694.5 1675.4 695.4C1673.1 696.4 1673.1 701.5 1670.9 702.2C1668.6 703 1664.5 701.3 1661.8 700C1659.2 698.6 1657.1 695 1655 694.3C1653 693.5 1650.7 693.9 1649.4 695.4C1648.1 696.9 1648.4 701.1 1647.1 703.4C1645.8 705.6 1641.3 707.2 1641.5 709C1641.7 710.9 1646.9 712.5 1648.3 714.7C1649.6 717 1648.8 720.4 1649.4 722.7C1650 725 1652.2 726.1 1651.7 728.4C1651.1 730.6 1647.3 733.9 1646 736.3C1644.7 738.8 1645.4 741.2 1643.7 743.1C1642 745 1637.7 745.8 1635.8 747.7C1633.9 749.6 1632.1 752.2 1632.4 754.5C1632.8 756.8 1636.6 758.3 1638.1 761.3C1639.6 764.4 1640.9 768.9 1641.5 772.7C1642 776.5 1641.3 781.2 1641.5 784.1C1641.7 786.9 1643.4 788.5 1642.6 789.7C1641.9 791 1638.3 789.8 1637 791.7C1635.6 793.5 1636.6 797.9 1634.7 800.8C1632.8 803.6 1628.8 806.4 1625.6 808.7C1622.4 811 1619.4 812.5 1615.5 814.4C1611.5 816.3 1605.5 817.6 1601.9 820.1C1598.3 822.5 1597.2 826.3 1594 829.2C1590.8 832 1586.4 834.7 1582.7 837.1C1578.9 839.6 1574 841.3 1571.4 844C1568.7 846.6 1568.2 850 1566.8 853C1565.5 856.1 1565.7 860.2 1563.5 862.1C1561.2 864 1557.2 863.3 1553.3 864.4C1549.3 865.6 1542.9 867.3 1539.7 869C1536.5 870.7 1535.2 872 1534.1 874.6C1532.9 877.3 1534.2 882 1532.9 884.9C1531.6 887.7 1528.4 889.4 1526.1 891.7C1523.9 894 1521.4 896 1519.4 898.5C1517.3 901 1515.4 903.8 1513.7 906.5C1512 909.1 1510.9 911.2 1509.2 914.4C1507.5 917.6 1505.2 922.4 1503.5 925.8C1501.8 929.2 1500.1 932.2 1499 934.9C1497.9 937.5 1496.9 938.7 1496.7 941.7C1496.6 944.7 1497.3 949.3 1497.9 953.1C1498.4 956.9 1499.4 960.6 1500.1 964.4C1500.9 968.2 1501.3 972.4 1502.4 975.8C1503.5 979.2 1505.4 982.4 1506.9 984.9C1508.4 987.4 1510.9 988.3 1511.4 990.6C1512 992.8 1510.7 996.3 1510.3 998.5C1509.9 1000.8 1510.5 1002.1 1509.2 1004.2C1507.9 1006.3 1504.1 1008.6 1502.4 1011C1500.7 1013.5 1500.1 1016 1499 1019C1497.9 1022 1496.7 1025.8 1495.6 1029.2C1494.5 1032.6 1493.5 1036.2 1492.2 1039.4C1490.9 1042.7 1489.8 1046.6 1487.7 1048.5C1485.6 1050.4 1481.9 1049.5 1479.8 1050.8C1477.7 1052.1 1476.2 1053.8 1475.3 1056.5C1474.3 1059.1 1474.9 1063.5 1474.1 1066.7C1473.4 1069.9 1471.1 1072.4 1470.7 1075.8C1470.4 1079.2 1471.1 1084 1471.9 1087.2C1472.6 1090.4 1474.3 1092.9 1475.3 1095.1C1476.2 1097.4 1478.1 1098.7 1477.5 1100.8C1477 1102.9 1473.8 1105.7 1471.9 1107.6C1470 1109.5 1468.5 1112.6 1466.2 1112.2C1464 1111.8 1461.1 1107.6 1458.3 1105.4C1455.5 1103.1 1452.3 1098.9 1449.3 1098.6C1446.2 1098.2 1443.4 1101.8 1440.2 1103.1C1437 1104.4 1433 1105.7 1430 1106.5C1427 1107.3 1423.2 1105.6 1422.1 1107.6C1421 1109.7 1424 1119 1423.2 1119C1422.5 1119 1419.7 1110.3 1417.6 1107.6C1415.5 1105 1412.9 1105.4 1410.8 1103.1C1408.7 1100.8 1407 1096.8 1405.2 1094C1403.3 1091.2 1402 1087.6 1399.5 1086C1397.1 1084.5 1393.3 1084 1390.5 1084.9C1387.6 1085.9 1384 1089.5 1382.5 1091.7C1381 1094 1380.7 1095.9 1381.4 1098.6C1382.2 1101.2 1385.9 1104.2 1387.1 1107.6C1388.2 1111.1 1387.6 1115.6 1388.2 1119C1388.8 1122.4 1390.6 1125.1 1390.5 1128.1C1390.3 1131.1 1387.9 1134.4 1387.1 1137.2C1386.3 1140 1386.1 1142.8 1385.6 1145C1385.2 1147.3 1385.1 1148.7 1384.3 1150.5C1383.5 1152.3 1382.5 1154.7 1380.9 1156C1379.3 1157.2 1376.8 1158.2 1374.8 1158C1372.7 1157.8 1370 1156.3 1368.7 1154.6C1367.3 1152.9 1366.3 1149.8 1366.6 1147.8C1367 1145.7 1369 1143 1370.7 1142.3C1372.4 1141.6 1375.9 1144.6 1376.8 1143.7C1377.7 1142.8 1376.7 1139 1376.1 1136.9C1375.6 1134.7 1374.9 1131.5 1373.4 1130.7C1371.9 1129.9 1369.5 1131.3 1367.3 1132.1C1365.2 1132.9 1362.6 1133.9 1360.5 1135.5C1358.5 1137.1 1356.4 1139.1 1355.1 1141.6C1353.9 1144.1 1354 1145.6 1353.1 1150.5C1352.2 1155.4 1352.4 1168.7 1349.7 1171C1347 1173.2 1339.9 1166.4 1336.8 1164.1C1333.7 1161.9 1333.2 1160 1331.4 1157.3C1329.6 1154.6 1328.2 1151.2 1325.9 1147.8C1323.7 1144.4 1320.8 1140.7 1317.8 1136.9C1314.9 1133 1310.5 1128 1308.3 1124.6C1306.2 1121.2 1305.5 1117.8 1304.9 1116.4"/>
<path class="bd" style="stroke-width:11.8" d="M1304.9 1116.4C1302.7 1113.1 1294.9 1100.4 1291.7 1096.8C1288.6 1093.1 1288 1094.1 1286.1 1094.5C1284.2 1094.9 1281.2 1096.4 1280.4 1099.1C1279.7 1101.7 1281.9 1107 1281.5 1110.4C1281.2 1113.8 1280 1117.2 1278.2 1119.5C1276.3 1121.8 1272.7 1122.5 1270.2 1124.1C1267.8 1125.6 1265 1126.3 1263.5 1128.6C1261.9 1130.9 1261.4 1133.5 1261.2 1137.7C1261 1141.9 1261.2 1147.5 1262.3 1153.6C1263.5 1159.7 1267.2 1168.8 1268 1174.1C1268.7 1179.4 1267.4 1181.6 1266.8 1185.4C1266.3 1189.2 1265.2 1193.4 1264.6 1196.8C1264 1200.2 1263.5 1202.5 1263.5 1205.9C1263.5 1209.3 1265.2 1213.8 1264.6 1217.3C1264 1220.7 1262.3 1224.5 1260.1 1226.3C1257.8 1228.2 1253.7 1227.5 1251 1228.6C1248.4 1229.8 1245.4 1232.4 1244.2 1233.2"/>
<path class="bd" style="stroke-width:12" d="M1222.7 1233.2C1223.3 1232.6 1224.4 1231.3 1226.1 1229.8C1227.8 1228.2 1231.8 1226.5 1232.9 1224.1C1234.1 1221.6 1232.5 1218.4 1232.9 1215C1233.3 1211.6 1234.4 1207.8 1235.2 1203.6C1235.9 1199.5 1237.4 1194.5 1237.4 1190C1237.4 1185.4 1235.4 1180.5 1235.2 1176.3C1235 1172.2 1236.5 1168.8 1236.3 1165C1236.1 1161.2 1234.1 1157.4 1234.1 1153.6C1234.1 1149.8 1236.3 1145.7 1236.3 1142.2C1236.3 1138.8 1234.6 1136.6 1234.1 1133.1C1233.5 1129.7 1233.1 1125.6 1232.9 1121.8C1232.7 1118 1234.6 1113.1 1232.9 1110.4C1231.2 1107.8 1226.1 1106.8 1222.7 1105.9C1219.4 1104.9 1214.5 1104 1212.6 1104.7C1210.7 1105.5 1212.8 1108.3 1211.4 1110.4C1210.1 1112.5 1206.2 1117.6 1204.7 1117.2C1203.2 1116.9 1203.5 1111.2 1202.4 1108.1C1201.3 1105.1 1199.2 1102.5 1197.9 1099.1C1196.6 1095.6 1195.8 1091.3 1194.5 1087.7C1193.2 1084.1 1191.1 1080.9 1190 1077.5C1188.8 1074 1189.6 1070.6 1187.7 1067.2C1185.8 1063.8 1181.7 1059.8 1178.7 1057C1175.6 1054.2 1173 1051.7 1169.6 1050.2C1166.2 1048.7 1162.4 1047.9 1158.3 1047.9C1154.2 1047.9 1148.7 1048.9 1144.7 1050.2C1140.8 1051.5 1137.4 1053.8 1134.6 1055.9C1131.7 1057.9 1128.7 1060.4 1127.8 1062.7C1126.8 1065 1128 1067.2 1128.9 1069.5C1129.8 1071.8 1132.9 1073.9 1133.4 1076.3C1134 1078.8 1133.4 1082.8 1132.3 1084.3C1131.2 1085.8 1129.1 1084.3 1126.6 1085.4C1124.2 1086.5 1120.6 1088.6 1117.6 1091.1C1114.6 1093.6 1110.4 1099.2 1108.5 1100.2C1106.7 1101.1 1108.4 1098.7 1106.3 1096.8C1104.2 1094.9 1098 1091.5 1096.1 1088.8C1094.2 1086.2 1095.7 1083.3 1095 1080.9C1094.2 1078.4 1092.5 1077.1 1091.6 1074C1090.6 1071 1090.1 1066.5 1089.3 1062.7C1088.6 1058.9 1088.8 1053 1087.1 1051.3C1085.4 1049.6 1082 1050.9 1079.1 1052.5C1076.3 1054 1073.3 1057.9 1070.1 1060.4C1066.9 1062.9 1063.1 1066.8 1059.9 1067.2C1056.7 1067.6 1053 1065 1050.9 1062.7C1048.8 1060.4 1049.6 1056.2 1047.5 1053.6C1045.4 1050.9 1041.3 1048.9 1038.4 1046.8C1035.6 1044.7 1031.3 1043 1030.5 1041.1C1029.8 1039.2 1031.5 1036.9 1033.9 1035.4C1036.4 1033.9 1042.8 1033.5 1045.2 1032C1047.7 1030.5 1049.6 1028 1048.6 1026.3C1047.7 1024.6 1042 1024.4 1039.6 1021.8C1037.1 1019.1 1036 1013.2 1033.9 1010.4C1031.8 1007.6 1029.4 1006.8 1027.1 1004.7C1024.9 1002.6 1023.2 998.3 1020.4 997.9C1017.5 997.5 1013.3 1001.1 1010 1002.4C1006.8 1003.8 1004 1005.7 1001 1005.9C998 1006 995.3 1003.2 991.9 1003.6C988.5 1004 983.5 1008.5 980.6 1008.1C977.8 1007.7 977.2 1003.6 975 1001.3C972.7 999 970.1 996.4 967.1 994.5C964 992.6 960.3 990.1 956.9 989.9C953.5 989.7 950.7 992.6 946.7 993.3C942.7 994.1 936.9 993.5 933.1 994.5C929.4 995.4 926.7 997.1 924.1 999C921.5 1000.9 918.4 1003.2 917.3 1005.9C916.2 1008.5 916 1012.3 917.3 1014.9C918.6 1017.6 924.8 1018.7 925.2 1021.8C925.6 1024.8 922.2 1031.6 919.6 1033.1C916.9 1034.6 911.7 1030.3 909.4 1030.9C907.1 1031.4 906.6 1033.5 906 1036.5C905.4 1039.6 907.5 1046.2 906 1049C904.5 1051.9 900.2 1052.1 897 1053.6C893.7 1055.1 890.2 1058.7 886.8 1058.1C883.4 1057.6 878.9 1049.8 876.6 1050.2C874.3 1050.6 875.1 1057.9 873.2 1060.4C871.3 1062.9 868.9 1064.4 865.3 1065C861.7 1065.5 856.2 1064 851.7 1063.8C847.2 1063.6 842.3 1063.2 838.2 1063.8C834 1064.4 830.1 1065.5 826.8 1067.2C823.6 1068.9 820.4 1071.6 818.9 1074C817.4 1076.5 818.4 1078.6 817.8 1082C817.2 1085.4 817.4 1092.6 815.5 1094.5C813.7 1096.4 809.9 1093.6 806.5 1093.4C803.1 1093.2 798.6 1092.2 795.2 1093.4C791.8 1094.5 789.5 1098.3 786.1 1100.2C782.7 1102.1 778.6 1103 774.8 1104.7C771.1 1106.4 767.3 1108.1 763.5 1110.4C759.8 1112.7 756 1116.5 752.2 1118.4C748.5 1120.3 744.1 1119.9 740.9 1121.8C737.7 1123.7 735.3 1126.9 733 1129.7C730.7 1132.6 728.9 1138.5 727.3 1138.8C725.8 1139.2 725.1 1134.5 724 1132C722.8 1129.5 721.3 1126.7 720.6 1124.1C719.8 1121.4 720.6 1118.4 719.4 1116.1C718.3 1113.8 716 1112.3 713.8 1110.4C711.5 1108.5 708.3 1105.1 705.9 1104.7C703.4 1104.4 701.5 1107.8 699.1 1108.1C696.6 1108.5 693.8 1107.4 691.2 1107C688.5 1106.6 684 1108.1 683.2 1105.9C682.5 1103.6 686.1 1096.6 686.6 1093.4C687.2 1090.1 687.8 1088.6 686.6 1086.5C685.5 1084.5 682.1 1082.8 679.9 1080.9C677.6 1079 675.5 1076.5 673.1 1075.2C670.7 1073.9 668.5 1072 665.6 1072.9C662.6 1073.9 658 1078 655.4 1080.9C652.7 1083.7 652 1088.6 649.7 1090C647.5 1091.3 644.3 1090.1 641.8 1088.8C639.4 1087.5 637.7 1084.3 635 1082C632.4 1079.7 629 1077.1 626 1075.2C623 1073.3 620.3 1071 616.9 1070.6C613.5 1070.3 609.4 1072.7 605.6 1072.9C601.9 1073.1 597.7 1073.3 594.3 1071.8C590.9 1070.3 588.7 1065.3 585.3 1063.8C581.9 1062.3 577.2 1062.3 574 1062.7C570.8 1063.1 569.1 1066.1 566 1066.1C563 1066.1 558.9 1064.2 555.9 1062.7C552.9 1061.2 550.4 1057.2 548 1057C545.5 1056.8 544 1060.2 541.2 1061.5C538.3 1062.9 533.8 1062.9 531 1065C528.2 1067 525.9 1071.3 524.2 1074C522.5 1076.8 522 1079.4 520.6 1081.7C519.3 1084 517.7 1086.7 516.1 1088C514.4 1089.4 512.4 1088.4 510.6 1089.9C508.8 1091.4 507.2 1093.8 505.2 1097.1C503.2 1100.4 500.5 1106.2 498.8 1109.8C497.2 1113.4 495.4 1116.6 495.2 1118.9C495.1 1121.2 496.9 1121.9 497.9 1123.4C499 1124.9 501.3 1126.4 501.6 1128C501.9 1129.5 500.8 1131.1 499.8 1132.5C498.7 1133.9 496.9 1135.1 495.2 1136.1C493.6 1137.2 491.4 1137.8 489.8 1138.8C488.1 1139.9 486.7 1142.5 485.2 1142.5C483.7 1142.5 481.5 1140.2 480.7 1138.8C479.9 1137.5 481.3 1135.8 480.7 1134.3C480.1 1132.8 478.6 1131.1 477.1 1129.8C475.6 1128.4 472.8 1127.7 471.6 1126.1C470.4 1124.6 470.4 1122.8 469.8 1120.7C469.2 1118.6 468 1115.6 468 1113.4C468 1111.3 468.9 1110.1 469.8 1108C470.7 1105.9 472.7 1103.2 473.4 1100.7C474.2 1098.3 473.9 1095.2 474.4 1093.5C474.8 1091.8 476.1 1092 476.2 1090.8C476.2 1089.6 475 1087.9 474.8 1086.2C474.7 1084.6 475.8 1082.6 475.3 1080.8C474.7 1079 473.3 1076.7 471.6 1075.4C470 1074 467.7 1073.5 465.3 1072.6C462.9 1071.7 459.7 1069.9 457.1 1069.9C454.5 1070 452.3 1071.7 449.6 1072.9C446.8 1074.2 443.9 1076.3 440.5 1077.5C437.1 1078.6 432.4 1079.2 429.2 1079.7C426 1080.3 423.6 1079.5 421.3 1080.9C419.1 1082.2 418.5 1087.1 415.7 1087.7C412.8 1088.3 407.6 1085.2 404.4 1084.3C401.2 1083.3 398.9 1080.5 396.4 1082C394 1083.5 391.9 1091.7 389.7 1093.4C387.4 1095.1 385.3 1093 382.9 1092.2C380.4 1091.5 377.8 1089.2 375 1088.8C372.1 1088.4 368.9 1089.8 365.9 1090C362.9 1090.1 359.9 1089.6 356.9 1090C353.9 1090.3 350.5 1092.2 347.8 1092.2C345.2 1092.2 343.3 1091.7 341 1090C338.8 1088.3 336.9 1084.1 334.3 1082C331.6 1079.9 328.2 1079 325.2 1077.5C322.2 1075.9 319.2 1074.4 316.2 1072.9C313.1 1071.4 309.9 1068.7 307.1 1068.4C304.3 1068 301.1 1068.6 299.2 1070.6C297.3 1072.7 297.5 1078.4 295.8 1080.9C294.1 1083.3 291.7 1085.2 289 1085.4C286.4 1085.6 282.8 1083.1 280 1082C277.2 1080.9 273 1080.7 272.1 1078.6C271.1 1076.5 274.7 1071.8 274.3 1069.5C273.9 1067.2 271.9 1064.8 269.8 1065C267.7 1065.1 262.6 1068 261.9 1070.6C261.1 1073.3 265.7 1078.2 265.3 1080.9C264.9 1083.5 261.7 1086.2 259.6 1086.5C257.6 1086.9 254.5 1085.2 252.8 1083.1C251.1 1081.1 251 1077.3 249.5 1074C247.9 1070.8 245.7 1066.8 243.8 1063.8C241.9 1060.8 239.5 1058.9 238.1 1055.9C236.8 1052.8 237 1047.1 235.9 1045.6C234.8 1044.1 233.1 1044.9 231.4 1046.8C229.7 1048.7 227.2 1055.9 225.7 1057C224.2 1058.1 224.2 1054.7 222.3 1053.6C220.4 1052.5 217.4 1050.4 214.4 1050.2C211.4 1050 207.4 1052.5 204.2 1052.5C201 1052.5 197.2 1052.3 195.2 1050.2C193.1 1048.1 192 1043.2 191.8 1039.9C191.6 1036.7 194 1033.5 194 1030.9C194 1028.2 193 1025.4 191.8 1024C190.6 1022.7 187.6 1023.1 186.8 1022.9"/>
<path class="bd" style="stroke-width:14.5" d="M975.6 120.8C977.5 120.2 983 118.3 987 117.2C990.9 116.1 999 113.6 999.4 114.5C999.8 115.3 992.2 120.2 989.2 122.4C986.2 124.7 980.5 126.9 981.3 128.1C982.1 129.4 991.7 129.6 993.7 129.9"/>
<path class="bd" style="stroke-width:14" d="M1080.8 122.4C1082.1 124.1 1086.1 128.8 1088.7 132.7C1091.4 136.6 1095.3 143.6 1096.6 145.8"/>
<path class="bd" style="stroke-width:16.5" d="M1554.5 328.6C1556.8 328.9 1563 329.5 1568.1 330.2C1573.2 330.9 1582.4 332.3 1585.3 332.7"/>
<path class="bd" style="stroke-width:14" d="M1552.3 336.1C1552.7 337.1 1554.2 340.8 1554.5 341.8"/>
<path class="bd" style="stroke-width:14.5" d="M1670.9 595.4C1672.2 596.3 1676.9 599.1 1678.8 601.1C1680.7 603 1681.6 606.2 1682.2 607.2"/>
<path class="bd" style="stroke-width:13.5" d="M1675.4 689.7C1677.1 690.3 1682.6 691.7 1685.6 693.1C1688.5 694.5 1691.8 697.3 1693 698.1"/>
<path class="bd" style="stroke-width:14" d="M192.2 1023.6C192.6 1024.8 194.5 1028.1 194.5 1030.9C194.5 1033.6 192.6 1038.4 192.2 1039.9"/>
<path class="bd" style="stroke-width:15" d="M1422.1 1107.6C1422.4 1109.5 1423.6 1116.7 1423.9 1118.6"/>
<path class="bd" style="stroke-width:15" d="M1422.9 1111.6C1423.3 1113 1425.1 1118.6 1425.6 1120"/>
<circle cx="991.5" cy="120.8" r="9.5" fill="#16120f"/>
<circle cx="997.1" cy="115.6" r="8" fill="#16120f"/>
<circle cx="1086.5" cy="128.1" r="8" fill="#16120f"/>
<circle cx="1092.1" cy="138.3" r="7.5" fill="#16120f"/>
<circle cx="1559.1" cy="333.2" r="8" fill="#16120f"/>
<circle cx="1679.9" cy="604.5" r="8" fill="#16120f"/>
<circle cx="1424.4" cy="1113.3" r="8.5" fill="#16120f"/>
<circle cx="1425.1" cy="1117.2" r="8" fill="#16120f"/>
</g>
<ellipse class="D" cx="1211.3" cy="198.1" rx="19.2" ry="20.4"/>
<ellipse class="D" cx="1300.4" cy="229.3" rx="30.4" ry="32.2"/>
<ellipse class="D" cx="1352.1" cy="249.1" rx="19.2" ry="20.4"/>
<ellipse class="D" cx="976.8" cy="275.4" rx="19.2" ry="20.4"/>
<ellipse class="D" cx="1130.6" cy="314.5" rx="38.1" ry="40"/>
<ellipse class="D" cx="940.6" cy="392.3" rx="30.4" ry="32.2"/>
<ellipse class="D" cx="1057.1" cy="391.4" rx="19.2" ry="20.4"/>
<ellipse class="D" cx="1186.6" cy="402" rx="38.1" ry="40"/>
<ellipse class="D" cx="1195.6" cy="514.5" rx="30.4" ry="32.2"/>
<ellipse class="D" cx="1556" cy="507.9" rx="38.1" ry="40"/>
<ellipse class="D" cx="1103.4" cy="669" rx="38.1" ry="40"/>
<ellipse class="D" cx="1390.5" cy="676.1" rx="30.4" ry="32.2"/>
<ellipse class="D" cx="1528.9" cy="686.7" rx="19.2" ry="20.4"/>
<ellipse class="D" cx="1607.6" cy="699.5" rx="38.1" ry="40"/>
<ellipse class="D" cx="819.6" cy="202.4" rx="38.1" ry="40"/>
<ellipse class="D" cx="648.4" cy="723.5" rx="30.4" ry="32.2"/>
<ellipse class="D" cx="458.5" cy="837.7" rx="19.2" ry="20.4"/>
<ellipse class="D" cx="650.5" cy="941.7" rx="19.2" ry="20.4"/>
<ellipse class="D" cx="576.8" cy="961.5" rx="38.1" ry="40"/>
<ellipse class="D" cx="699.8" cy="976.3" rx="38.1" ry="40"/>
<ellipse class="D" cx="477.4" cy="976.3" rx="19.2" ry="20.4"/>
<ellipse class="D" cx="379" cy="990.2" rx="19.2" ry="20.4"/>
<ellipse class="D" cx="532.8" cy="1003.2" rx="19.2" ry="20.4"/>
<ellipse class="D" cx="339" cy="1027" rx="38.1" ry="40"/>
<ellipse class="D" cx="1504.2" cy="760.2" rx="19.2" ry="20.4"/>
<ellipse class="D" cx="994.1" cy="798.8" rx="38.1" ry="40"/>
<ellipse class="D" cx="1114.9" cy="821.3" rx="19.2" ry="20.4"/>
<ellipse class="D" cx="1513.7" cy="833.7" rx="38.1" ry="40"/>
<ellipse class="D" cx="1007.4" cy="925.8" rx="30.4" ry="32.2"/>
<ellipse class="D" cx="1165.8" cy="942.1" rx="30.4" ry="32.2"/>
<ellipse class="D" cx="1484.4" cy="911" rx="19.2" ry="20.4"/>
<ellipse class="D" cx="1355.8" cy="992.6" rx="19.2" ry="20.4"/>
<ellipse class="D" cx="1138.2" cy="1025.3" rx="30.4" ry="32.2"/>
<ellipse class="D" cx="1309.6" cy="1092.1" rx="38.1" ry="40"/>
<ellipse class="D" cx="1449.6" cy="1125.1" rx="19.2" ry="20.4"/>
<ellipse class="D" cx="1277.5" cy="1145.9" rx="30.4" ry="32.2"/>
<ellipse class="R" cx="1457.3" cy="313.8" rx="19.2" ry="20.4"/>
<ellipse class="R" cx="1455.6" cy="529.9" rx="19.2" ry="20.4"/>
<ellipse class="R" cx="1008.2" cy="578.6" rx="30.4" ry="32.2"/>
<ellipse class="R" cx="1111.7" cy="605.4" rx="30.4" ry="32.2"/>
<ellipse class="R" cx="1305" cy="609.5" rx="19.2" ry="20.4"/>
<ellipse class="R" cx="1492.9" cy="589.2" rx="19.2" ry="20.4"/>
<ellipse class="R" cx="1446.5" cy="635.9" rx="19.2" ry="20.4"/>
<ellipse class="R" cx="1186.5" cy="671.6" rx="30.4" ry="32.2"/>
<ellipse class="R" cx="971.2" cy="678.8" rx="19.2" ry="20.4"/>
<ellipse class="R" cx="854.5" cy="761.7" rx="30.4" ry="32.2"/>
<ellipse class="R" cx="565.2" cy="802.4" rx="30.4" ry="32.2"/>
<ellipse class="R" cx="722.9" cy="794.5" rx="30.4" ry="32.2"/>
<ellipse class="R" cx="648.3" cy="876.1" rx="19.2" ry="20.4"/>
<ellipse class="R" cx="816.2" cy="860.2" rx="19.2" ry="20.4"/>
<ellipse class="R" cx="713.8" cy="1079.8" rx="19.2" ry="20.4"/>
<ellipse class="R" cx="493" cy="1100.2" rx="19.2" ry="20.4"/>
<ellipse class="R" cx="1358.1" cy="729" rx="19.2" ry="20.4"/>
<ellipse class="R" cx="1333.5" cy="783.6" rx="19.2" ry="20.4"/>
<ellipse class="R" cx="1061.8" cy="735.9" rx="30.4" ry="32.2"/>
<ellipse class="R" cx="1263.7" cy="915.3" rx="30.4" ry="32.2"/>
<ellipse class="R" cx="1353.7" cy="915" rx="30.4" ry="32.2"/>
<ellipse class="R" cx="1448.1" cy="996.7" rx="19.2" ry="20.4"/>
<ellipse class="R" cx="1349.8" cy="1170.2" rx="19.2" ry="20.4"/>
<rect class="fr" x="187.8" y="106.1" width="1521.4" height="1128.2"/>
<line class="tk" x1="168.2" x2="185" y1="104.7" y2="104.7"/>
<text class="ax" transform="translate(152.1,122.1) scale(0.962,1)" text-anchor="end">40°N</text>
<line class="tk" x1="168.2" x2="185" y1="266.3" y2="266.3"/>
<text class="ax" transform="translate(152.1,283.7) scale(0.962,1)" text-anchor="end">38°N</text>
<line class="tk" x1="168.2" x2="185" y1="427.8" y2="427.8"/>
<text class="ax" transform="translate(152.1,445.2) scale(0.962,1)" text-anchor="end">36°N</text>
<line class="tk" x1="168.2" x2="185" y1="589.4" y2="589.4"/>
<text class="ax" transform="translate(152.1,606.8) scale(0.962,1)" text-anchor="end">34°N</text>
<line class="tk" x1="168.2" x2="185" y1="750.9" y2="750.9"/>
<text class="ax" transform="translate(152.1,768.3) scale(0.962,1)" text-anchor="end">32°N</text>
<line class="tk" x1="168.2" x2="185" y1="912.5" y2="912.5"/>
<text class="ax" transform="translate(152.1,929.9) scale(0.962,1)" text-anchor="end">30°N</text>
<line class="tk" x1="168.2" x2="185" y1="1074.1" y2="1074.1"/>
<text class="ax" transform="translate(152.1,1091.5) scale(0.962,1)" text-anchor="end">28°N</text>
<line class="tk" x1="168.2" x2="185" y1="1235.6" y2="1235.6"/>
<text class="ax" transform="translate(152.1,1253) scale(0.962,1)" text-anchor="end">26°N</text>
<line class="tk" x1="186.4" x2="186.4" y1="1237" y2="1254"/>
<text class="ax" transform="translate(130.1,1317.6) scale(0.943,1)">85°E</text>
<line class="tk" x1="570.3" x2="570.3" y1="1237" y2="1254"/>
<text class="ax" transform="translate(505.6,1317.6) scale(0.943,1)">90°E</text>
<line class="tk" x1="953.2" x2="953.2" y1="1237" y2="1254"/>
<text class="ax" transform="translate(884.5,1317.6) scale(0.943,1)">95°E</text>
<line class="tk" x1="1329.6" x2="1329.6" y1="1237" y2="1254"/>
<text class="ax" transform="translate(1263.6,1317.6) scale(0.943,1)">100°E</text>
<line class="tk" x1="1710.6" x2="1710.6" y1="1237" y2="1254"/>
<text class="ax" transform="translate(1630,1317.6) scale(0.943,1)">105°E</text>
<text class="ax" x="948.5" y="60.1" text-anchor="middle">(d)</text>
<ellipse class="D" cx="267.9" cy="373.1" rx="38.1" ry="40"/>
<text class="lg"><tspan class="it" x="340.8" y="389.4">x</tspan><tspan class="lt" x="364" y="387.9" textLength="32.712" lengthAdjust="spacingAndGlyphs">&lt;</tspan><tspan x="396.3" y="389.4">0.5</tspan></text>
<ellipse class="D" cx="266.1" cy="457.4" rx="30.4" ry="32.2"/>
<text class="lg"><tspan x="341.6" y="469.4">0.5</tspan><tspan class="sy" x="411.6" y="463" textLength="46.7604" lengthAdjust="spacingAndGlyphs">⩽</tspan><tspan class="it" x="463.2" y="469.4">x</tspan><tspan class="lt" x="487.2" y="467.9" textLength="32.712" lengthAdjust="spacingAndGlyphs">&lt;</tspan><tspan x="518.5" y="469.4">0.7</tspan></text>
<ellipse class="D" cx="266.1" cy="538" rx="19.2" ry="20.4"/>
<text class="lg"><tspan x="341.7" y="549.3">0.7</tspan><tspan class="sy" x="410.9" y="542.9" textLength="46.7604" lengthAdjust="spacingAndGlyphs">⩽</tspan><tspan class="it" x="462.7" y="549.3">x</tspan><tspan class="lt" x="485.7" y="547.8" textLength="32.712" lengthAdjust="spacingAndGlyphs">&lt;</tspan><tspan x="519.9" y="549.3">1</tspan></text>
<ellipse class="R" cx="266.1" cy="616.2" rx="19.2" ry="20.4"/>
<text class="lg"><tspan x="343.7" y="629.4">1</tspan><tspan class="sy" x="370.3" y="623" textLength="46.7604" lengthAdjust="spacingAndGlyphs">⩽</tspan><tspan class="it" x="422.1" y="629.4">x</tspan><tspan class="lt" x="445.1" y="627.9" textLength="32.712" lengthAdjust="spacingAndGlyphs">&lt;</tspan><tspan x="479.3" y="629.4">1.5</tspan></text>
<ellipse class="R" cx="266.8" cy="690.6" rx="30.4" ry="32.2"/>
<text class="lg"><tspan x="343.7" y="709.3">1.5</tspan><tspan class="sy" x="411" y="702.9" textLength="46.7604" lengthAdjust="spacingAndGlyphs">⩽</tspan><tspan class="it" x="462.8" y="709.3">x</tspan><tspan class="lt" x="485.7" y="707.8" textLength="32.712" lengthAdjust="spacingAndGlyphs">&lt;</tspan><tspan x="516.3" y="709.3">2</tspan></text>
<ellipse class="R" cx="265.4" cy="776.3" rx="38.1" ry="40"/>
<text class="lg"><tspan class="it" x="341.6" y="788.4">x</tspan><tspan class="sy" x="369.4" y="782" textLength="46.7604" lengthAdjust="spacingAndGlyphs">⩾</tspan><tspan x="419" y="788.4">2</tspan></text>
</g>
<path d="M137.4 2722.2Q142.6 2729.5 137.6 2737.2Z" fill="#16120f"/><!-- sliver artifact -->
</svg>
</body></html>
